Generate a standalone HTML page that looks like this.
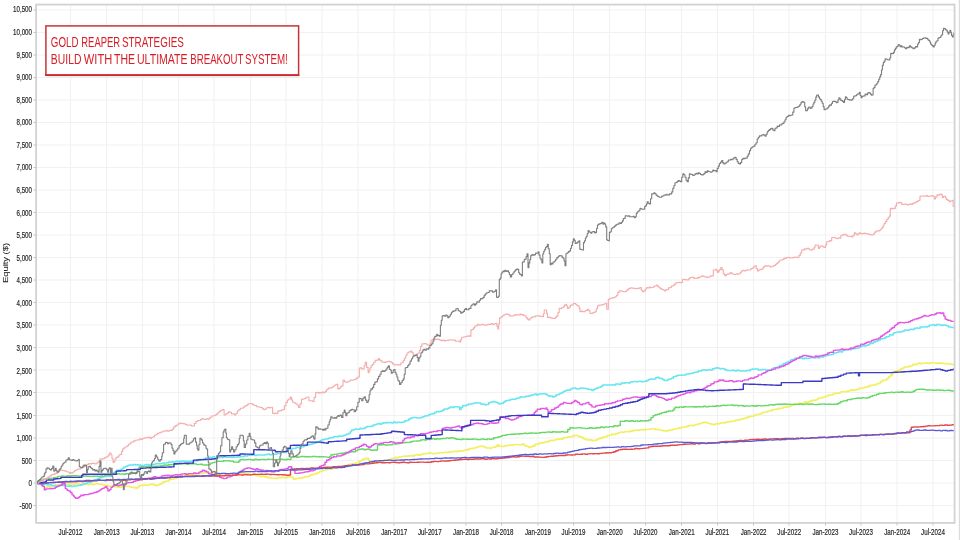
<!DOCTYPE html>
<html><head><meta charset="utf-8"><title>Equity chart</title>
<style>html,body{margin:0;padding:0;background:#fff;overflow:hidden;}svg{display:block;}</style></head>
<body><svg width="960" height="540" viewBox="0 0 960 540">
<rect width="960" height="540" fill="#fff"/>
<g stroke="#f1f1f1" stroke-width="1" fill="none"><line x1="36.1" y1="505.5" x2="954.6" y2="505.5"/><line x1="36.1" y1="483.0" x2="954.6" y2="483.0"/><line x1="36.1" y1="460.5" x2="954.6" y2="460.5"/><line x1="36.1" y1="438.0" x2="954.6" y2="438.0"/><line x1="36.1" y1="415.5" x2="954.6" y2="415.5"/><line x1="36.1" y1="392.5" x2="954.6" y2="392.5"/><line x1="36.1" y1="370.0" x2="954.6" y2="370.0"/><line x1="36.1" y1="347.5" x2="954.6" y2="347.5"/><line x1="36.1" y1="325.0" x2="954.6" y2="325.0"/><line x1="36.1" y1="302.5" x2="954.6" y2="302.5"/><line x1="36.1" y1="280.0" x2="954.6" y2="280.0"/><line x1="36.1" y1="257.5" x2="954.6" y2="257.5"/><line x1="36.1" y1="235.0" x2="954.6" y2="235.0"/><line x1="36.1" y1="212.5" x2="954.6" y2="212.5"/><line x1="36.1" y1="190.0" x2="954.6" y2="190.0"/><line x1="36.1" y1="167.5" x2="954.6" y2="167.5"/><line x1="36.1" y1="145.0" x2="954.6" y2="145.0"/><line x1="36.1" y1="122.5" x2="954.6" y2="122.5"/><line x1="36.1" y1="100.0" x2="954.6" y2="100.0"/><line x1="36.1" y1="77.5" x2="954.6" y2="77.5"/><line x1="36.1" y1="55.0" x2="954.6" y2="55.0"/><line x1="36.1" y1="32.5" x2="954.6" y2="32.5"/><line x1="36.1" y1="10.0" x2="954.6" y2="10.0"/><line x1="70.5" y1="4.6" x2="70.5" y2="522.9"/><line x1="106.5" y1="4.6" x2="106.5" y2="522.9"/><line x1="142.5" y1="4.6" x2="142.5" y2="522.9"/><line x1="178.5" y1="4.6" x2="178.5" y2="522.9"/><line x1="214.0" y1="4.6" x2="214.0" y2="522.9"/><line x1="250.5" y1="4.6" x2="250.5" y2="522.9"/><line x1="286.0" y1="4.6" x2="286.0" y2="522.9"/><line x1="322.0" y1="4.6" x2="322.0" y2="522.9"/><line x1="358.0" y1="4.6" x2="358.0" y2="522.9"/><line x1="394.0" y1="4.6" x2="394.0" y2="522.9"/><line x1="430.0" y1="4.6" x2="430.0" y2="522.9"/><line x1="466.0" y1="4.6" x2="466.0" y2="522.9"/><line x1="501.5" y1="4.6" x2="501.5" y2="522.9"/><line x1="538.0" y1="4.6" x2="538.0" y2="522.9"/><line x1="573.5" y1="4.6" x2="573.5" y2="522.9"/><line x1="609.5" y1="4.6" x2="609.5" y2="522.9"/><line x1="645.5" y1="4.6" x2="645.5" y2="522.9"/><line x1="681.5" y1="4.6" x2="681.5" y2="522.9"/><line x1="717.5" y1="4.6" x2="717.5" y2="522.9"/><line x1="753.5" y1="4.6" x2="753.5" y2="522.9"/><line x1="789.0" y1="4.6" x2="789.0" y2="522.9"/><line x1="825.5" y1="4.6" x2="825.5" y2="522.9"/><line x1="861.0" y1="4.6" x2="861.0" y2="522.9"/><line x1="897.0" y1="4.6" x2="897.0" y2="522.9"/><line x1="933.0" y1="4.6" x2="933.0" y2="522.9"/></g><polyline points="36.5,483.2 37.8,483.2 37.8,483.0 39.1,483.0 39.1,483.2 40.7,483.2 40.7,484.4 42.3,484.4 42.3,486.3 44.3,486.3 44.3,487.3 46.1,487.3 46.1,487.2 48.0,487.2 48.0,486.4 49.8,486.4 49.8,486.6 51.6,486.6 51.6,486.3 53.3,486.3 53.3,485.8 55.1,485.8 55.1,485.1 56.8,485.1 56.8,485.2 58.9,485.2 58.9,485.0 61.0,485.0 61.0,484.3 63.1,484.3 63.1,484.5 65.2,484.5 65.2,484.0 67.3,484.0 67.3,484.2 69.4,484.2 69.4,483.8 71.5,483.8 71.5,484.1 73.5,484.1 73.5,484.5 75.6,484.5 75.6,483.8 77.7,483.8 77.7,483.9 79.8,483.9 79.8,484.3 81.9,484.3 81.9,484.6 83.9,484.6 83.9,484.3 86.0,484.3 86.0,484.1 88.1,484.1 88.1,484.7 90.2,484.7 90.2,483.7 92.3,483.7 92.3,484.6 94.3,484.6 94.3,484.0 96.4,484.0 96.4,483.8 98.5,483.8 98.5,484.2 100.6,484.2 100.6,484.2 102.7,484.2 102.7,484.8 104.7,484.8 104.7,485.8 106.8,485.8 106.8,485.6 108.9,485.6 108.9,486.3 111.0,486.3 111.0,486.6 113.1,486.6 113.1,486.8 115.1,486.8 115.1,486.8 117.2,486.8 117.2,487.1 119.3,487.1 119.3,487.3 121.4,487.3 121.4,486.6 123.5,486.6 123.5,486.4 125.6,486.4 125.6,486.3 127.7,486.3 127.7,486.3 129.8,486.3 129.8,487.0 131.8,487.0 131.8,487.2 133.9,487.2 133.9,487.6 136.0,487.6 136.0,488.3 137.5,488.3 137.5,487.1 139.0,487.1 139.0,485.7 141.2,485.7 141.2,485.4 143.3,485.4 143.3,485.1 145.4,485.1 145.4,485.3 147.6,485.3 147.6,485.0 149.8,485.0 149.8,484.4 151.9,484.4 151.9,484.4 153.9,484.4 153.9,485.1 155.8,485.1 155.8,485.7 157.6,485.7 157.6,484.8 159.4,484.8 159.4,484.3 161.3,484.3 161.3,483.2 163.1,483.2 163.1,481.9 164.9,481.9 164.9,481.2 167.1,481.2 167.1,481.0 169.2,481.0 169.2,479.5 171.4,479.5 171.4,479.2 173.6,479.2 173.6,478.5 175.7,478.5 175.7,478.2 177.9,478.2 177.9,477.0 180.0,477.0 180.0,476.7 182.2,476.7 182.2,475.6 184.3,475.6 184.3,475.4 186.5,475.4 186.5,475.3 188.6,475.3 188.6,475.1 190.8,475.1 190.8,474.6 192.9,474.6 192.9,474.6 195.1,474.6 195.1,473.8 197.2,473.8 197.2,473.9 199.4,473.9 199.4,473.5 201.5,473.5 201.5,473.2 203.7,473.2 203.7,472.8 205.8,472.8 205.8,472.5 207.9,472.5 207.9,472.6 209.9,472.6 209.9,472.5 212.0,472.5 212.0,471.7 214.1,471.7 214.1,471.5 215.4,471.5 215.4,473.3 216.7,473.3 216.7,474.7 218.9,474.7 218.9,474.5 221.0,474.5 221.0,475.3 223.2,475.3 223.2,475.5 225.4,475.5 225.4,476.1 227.5,476.1 227.5,476.1 229.7,476.1 229.7,476.0 231.8,476.0 231.8,475.2 233.8,475.2 233.8,474.8 235.9,474.8 235.9,474.5 237.9,474.5 237.9,473.4 240.0,473.4 240.0,473.3 242.0,473.3 242.0,473.6 244.0,473.6 244.0,473.6 246.0,473.6 246.0,473.8 248.0,473.8 248.0,474.1 250.0,474.1 250.0,475.1 252.0,475.1 252.0,474.7 254.0,474.7 254.0,475.1 256.0,475.1 256.0,475.6 258.0,475.6 258.0,476.0 260.2,476.0 260.2,476.7 262.4,476.7 262.4,476.2 264.6,476.2 264.6,476.9 266.7,476.9 266.7,477.4 268.9,477.4 268.9,478.0 271.1,478.0 271.1,478.3 273.3,478.3 273.3,478.3 275.4,478.3 275.4,478.5 277.5,478.5 277.5,477.7 279.6,477.7 279.6,477.6 281.6,477.6 281.6,477.4 283.7,477.4 283.7,477.7 285.8,477.7 285.8,477.6 287.9,477.6 287.9,476.6 290.0,476.6 290.0,476.7 291.6,476.7 291.6,477.6 293.3,477.6 293.3,479.2 295.2,479.2 295.2,478.6 297.1,478.6 297.1,478.2 299.0,478.2 299.0,478.1 301.0,478.1 301.0,477.9 302.9,477.9 302.9,477.2 304.8,477.2 304.8,476.6 306.7,476.6 306.7,476.7 308.8,476.7 308.8,475.8 310.9,475.8 310.9,474.9 312.9,474.9 312.9,474.3 315.0,474.3 315.0,473.8 317.1,473.8 317.1,472.7 319.1,472.7 319.1,471.7 321.2,471.7 321.2,471.0 323.3,471.0 323.3,470.0 325.4,470.0 325.4,469.8 327.5,469.8 327.5,468.7 329.6,468.7 329.6,469.2 331.6,469.2 331.6,468.6 333.7,468.6 333.7,468.3 335.8,468.3 335.8,467.8 337.9,467.8 337.9,467.0 340.0,467.0 340.0,466.7 342.1,466.7 342.1,466.2 344.2,466.2 344.2,465.5 346.3,465.5 346.3,465.6 348.4,465.6 348.4,464.6 350.4,464.6 350.4,464.1 352.5,464.1 352.5,463.9 354.6,463.9 354.6,463.4 356.7,463.4 356.7,463.3 358.4,463.3 358.4,461.9 360.0,461.9 360.0,460.8 361.7,460.8 361.7,459.7 363.4,459.7 363.4,459.1 365.0,459.1 365.0,458.6 366.7,458.6 366.7,458.3 368.4,458.3 368.4,460.4 370.0,460.4 370.0,463.3 371.9,463.3 371.9,462.9 373.9,462.9 373.9,462.3 375.9,462.3 375.9,462.9 377.8,462.9 377.8,462.3 379.8,462.3 379.8,461.6 381.7,461.6 381.7,461.7 383.8,461.7 383.8,460.8 385.9,460.8 385.9,460.3 387.9,460.3 387.9,459.7 390.0,459.7 390.0,459.2 391.7,459.2 391.7,458.2 393.3,458.2 393.3,458.3 395.0,458.3 395.0,457.4 397.0,457.4 397.0,457.7 398.9,457.7 398.9,457.0 400.9,457.0 400.9,456.8 402.9,456.8 402.9,456.2 404.8,456.2 404.8,456.1 406.8,456.1 406.8,456.1 408.7,456.1 408.7,455.9 410.7,455.9 410.7,455.9 412.7,455.9 412.7,455.9 414.6,455.9 414.6,455.0 416.6,455.0 416.6,454.5 418.6,454.5 418.6,455.2 420.6,455.2 420.6,454.4 422.6,454.4 422.6,453.7 424.5,453.7 424.5,453.8 426.5,453.8 426.5,453.5 428.5,453.5 428.5,452.9 430.4,452.9 430.4,453.3 432.4,453.3 432.4,453.7 434.4,453.7 434.4,453.5 436.3,453.5 436.3,453.2 438.3,453.2 438.3,452.7 440.2,452.7 440.2,452.7 442.2,452.7 442.2,452.7 444.2,452.7 444.2,452.2 446.1,452.2 446.1,452.6 448.1,452.6 448.1,452.1 450.1,452.1 450.1,452.2 452.1,452.2 452.1,451.5 454.1,451.5 454.1,451.2 456.0,451.2 456.0,451.6 458.0,451.6 458.0,451.1 460.0,451.1 460.0,451.2 461.9,451.2 461.9,450.7 463.9,450.7 463.9,450.2 465.9,450.2 465.9,449.9 467.8,449.9 467.8,449.4 469.8,449.4 469.8,448.5 471.7,448.5 471.7,448.4 473.7,448.4 473.7,448.0 475.7,448.0 475.7,447.5 477.6,447.5 477.6,446.7 479.6,446.7 479.6,446.3 481.6,446.3 481.6,446.4 483.2,446.4 483.2,446.7 484.7,446.7 484.7,447.2 486.3,447.2 486.3,448.0 488.3,448.0 488.3,448.0 490.2,448.0 490.2,448.1 492.2,448.1 492.2,447.3 494.2,447.3 494.2,447.2 495.8,447.2 495.8,446.4 497.4,446.4 497.4,444.8 498.7,444.8 498.7,446.0 500.0,446.0 500.0,446.3 502.2,446.3 502.2,446.5 504.4,446.5 504.4,445.7 506.5,445.7 506.5,445.4 508.7,445.4 508.7,445.1 510.9,445.1 510.9,445.2 513.1,445.2 513.1,444.7 515.3,444.7 515.3,444.5 517.5,444.5 517.5,444.7 519.7,444.7 519.7,444.7 521.9,444.7 521.9,444.1 524.1,444.1 524.1,445.5 526.2,445.5 526.2,446.3 528.4,446.3 528.4,447.4 530.6,447.4 530.6,446.7 532.8,446.7 532.8,445.9 535.0,445.9 535.0,444.3 537.2,444.3 537.2,444.0 539.4,444.0 539.4,443.0 541.6,443.0 541.6,442.9 543.8,442.9 543.8,442.3 546.0,442.3 546.0,441.8 548.1,441.8 548.1,441.1 550.3,441.1 550.3,440.3 552.5,440.3 552.5,440.5 554.7,440.5 554.7,439.7 556.9,439.7 556.9,439.1 559.1,439.1 559.1,439.1 561.2,439.1 561.2,438.9 563.4,438.9 563.4,437.8 565.6,437.8 565.6,437.5 567.8,437.5 567.8,436.9 570.0,436.9 570.0,436.8 572.2,436.8 572.2,436.1 574.4,436.1 574.4,435.3 576.6,435.3 576.6,435.8 578.8,435.8 578.8,436.6 580.9,436.6 580.9,437.4 583.1,437.4 583.1,438.6 585.3,438.6 585.3,439.6 587.5,439.6 587.5,440.0 589.7,440.0 589.7,439.9 591.9,439.9 591.9,440.8 594.1,440.8 594.1,440.4 596.2,440.4 596.2,439.8 598.4,439.8 598.4,438.6 600.6,438.6 600.6,438.1 602.8,438.1 602.8,437.1 605.0,437.1 605.0,436.7 607.2,436.7 607.2,435.6 609.4,435.6 609.4,435.3 611.6,435.3 611.6,434.2 613.8,434.2 613.8,434.5 615.9,434.5 615.9,433.5 618.1,433.5 618.1,432.7 620.3,432.7 620.3,432.0 622.5,432.0 622.5,432.2 624.7,432.2 624.7,431.5 626.9,431.5 626.9,431.7 629.1,431.7 629.1,431.4 631.3,431.4 631.3,430.9 633.5,430.9 633.5,430.4 635.7,430.4 635.7,430.3 637.8,430.3 637.8,430.1 640.0,430.1 640.0,429.8 642.2,429.8 642.2,429.9 644.4,429.9 644.4,429.8 646.6,429.8 646.6,429.2 648.7,429.2 648.7,429.2 650.9,429.2 650.9,428.7 653.1,428.7 653.1,428.8 655.3,428.8 655.3,429.6 657.5,429.6 657.5,429.5 659.7,429.5 659.7,430.0 661.9,430.0 661.9,430.6 664.1,430.6 664.1,430.9 666.3,430.9 666.3,430.9 668.5,430.9 668.5,430.0 670.6,430.0 670.6,430.1 672.8,430.1 672.8,429.2 675.0,429.2 675.0,428.8 677.2,428.8 677.2,428.4 679.4,428.4 679.4,427.9 681.6,427.9 681.6,427.0 683.8,427.0 683.8,427.0 686.0,427.0 686.0,426.6 688.2,426.6 688.2,425.8 690.4,425.8 690.4,425.2 692.5,425.2 692.5,425.6 694.7,425.6 694.7,424.5 696.9,424.5 696.9,424.4 698.5,424.4 698.5,423.8 700.2,423.8 700.2,423.5 701.9,423.5 701.9,422.8 703.5,422.8 703.5,422.2 705.5,422.2 705.5,422.5 707.5,422.5 707.5,423.2 709.5,423.2 709.5,423.7 711.5,423.7 711.5,424.4 713.5,424.4 713.5,424.6 715.4,424.6 715.4,423.8 717.4,423.8 717.4,423.9 719.3,423.9 719.3,423.2 721.3,423.2 721.3,422.8 723.2,422.8 723.2,422.9 725.2,422.9 725.2,422.3 727.1,422.3 727.1,421.9 729.0,421.9 729.0,421.6 731.0,421.6 731.0,421.4 732.9,421.4 732.9,421.2 734.8,421.2 734.8,420.3 736.7,420.3 736.7,420.1 738.7,420.1 738.7,419.6 740.6,419.6 740.6,419.2 742.5,419.2 742.5,418.6 744.5,418.6 744.5,418.2 746.4,418.2 746.4,417.4 748.4,417.4 748.4,416.9 750.3,416.9 750.3,416.2 752.3,416.2 752.3,416.1 754.2,416.1 754.2,415.1 756.1,415.1 756.1,414.7 758.1,414.7 758.1,414.3 760.0,414.3 760.0,413.8 761.9,413.8 761.9,412.5 763.8,412.5 763.8,412.2 765.8,412.2 765.8,412.0 767.7,412.0 767.7,411.0 769.6,411.0 769.6,411.0 771.6,411.0 771.6,409.9 773.5,409.9 773.5,409.5 775.5,409.5 775.5,409.4 777.4,409.4 777.4,408.6 779.4,408.6 779.4,408.4 781.3,408.4 781.3,408.3 783.2,408.3 783.2,407.3 785.2,407.3 785.2,407.3 787.1,407.3 787.1,406.9 789.0,406.9 789.0,406.4 790.9,406.4 790.9,405.1 792.9,405.1 792.9,405.1 794.8,405.1 794.8,404.3 796.7,404.3 796.7,404.1 798.7,404.1 798.7,403.2 800.6,403.2 800.6,403.5 802.5,403.5 802.5,403.2 804.4,403.2 804.4,402.1 806.4,402.1 806.4,402.4 808.3,402.4 808.3,401.6 810.2,401.6 810.2,400.9 812.2,400.9 812.2,400.4 814.1,400.4 814.1,400.3 816.1,400.3 816.1,399.6 818.0,399.6 818.0,398.3 820.0,398.3 820.0,398.0 821.9,398.0 821.9,397.5 823.8,397.5 823.8,396.9 825.8,396.9 825.8,396.2 827.7,396.2 827.7,395.4 829.6,395.4 829.6,395.0 831.5,395.0 831.5,394.8 833.5,394.8 833.5,393.5 835.4,393.5 835.4,393.4 837.3,393.4 837.3,393.1 839.3,393.1 839.3,392.6 841.2,392.6 841.2,391.8 843.2,391.8 843.2,391.7 845.1,391.7 845.1,391.6 847.1,391.6 847.1,391.1 849.0,391.1 849.0,390.7 850.9,390.7 850.9,389.9 852.9,389.9 852.9,390.4 854.8,390.4 854.8,389.8 856.7,389.8 856.7,389.6 858.6,389.6 858.6,388.4 860.6,388.4 860.6,388.2 862.5,388.2 862.5,388.0 864.4,388.0 864.4,387.0 866.4,387.0 866.4,387.1 868.3,387.1 868.3,386.1 870.3,386.1 870.3,385.3 872.2,385.3 872.2,385.1 874.2,385.1 874.2,385.0 876.1,385.0 876.1,384.0 878.3,384.0 878.3,383.2 880.4,383.2 880.4,381.6 882.6,381.6 882.6,380.3 884.7,380.3 884.7,380.0 886.9,380.0 886.9,378.5 888.7,378.5 888.7,376.8 890.5,376.8 890.5,375.1 892.3,375.1 892.3,373.1 894.5,373.1 894.5,371.6 896.6,371.6 896.6,370.5 898.8,370.5 898.8,370.0 900.9,370.0 900.9,368.7 903.1,368.7 903.1,367.7 905.0,367.7 905.0,366.7 907.0,366.7 907.0,367.0 908.9,367.0 908.9,366.1 910.9,366.1 910.9,365.7 912.8,365.7 912.8,364.4 914.8,364.4 914.8,364.6 916.7,364.6 916.7,363.7 918.6,363.7 918.6,363.1 920.6,363.1 920.6,363.8 922.5,363.8 922.5,363.3 924.4,363.3 924.4,363.0 926.3,363.0 926.3,363.1 928.3,363.1 928.3,363.4 930.2,363.4 930.2,362.8 932.1,362.8 932.1,362.7 934.1,362.7 934.1,362.7 936.0,362.7 936.0,363.2 938.0,363.2 938.0,363.1 939.9,363.1 939.9,363.1 941.9,363.1 941.9,363.2 943.8,363.2 943.8,363.7 945.9,363.7 945.9,363.5 948.0,363.5 948.0,363.9 950.2,363.9 950.2,364.3 952.3,364.3 952.3,364.5 954.4,364.5 954.4,365.0" fill="none" stroke="#f2f060" stroke-width="1.6" stroke-linejoin="round"/>
<polyline points="36.5,483.2 38.2,483.2 38.2,483.9 40.0,483.9 40.0,484.0 41.6,484.0 41.6,483.9 43.2,483.9 43.2,484.4 44.8,484.4 44.8,484.1 46.4,484.1 46.4,484.7 48.1,484.7 48.1,484.8 49.8,484.8 49.8,484.8 51.4,484.8 51.4,485.4 53.1,485.4 53.1,485.4 54.8,485.4 54.8,486.3 56.7,486.3 56.7,486.4 58.5,486.4 58.5,485.9 60.4,485.9 60.4,485.3 62.2,485.3 62.2,485.4 64.1,485.4 64.1,485.2 65.7,485.2 65.7,486.3 67.3,486.3 67.3,486.3 69.2,486.3 69.2,485.8 71.2,485.8 71.2,486.5 73.1,486.5 73.1,486.0 75.0,486.0 75.0,486.0 76.9,486.0 76.9,485.6 78.9,485.6 78.9,485.5 80.8,485.5 80.8,484.7 82.6,484.7 82.6,483.9 84.4,483.9 84.4,483.4 86.3,483.4 86.3,483.0 88.1,483.0 88.1,482.1 89.6,482.1 89.6,482.2 91.2,482.2 91.2,480.9 92.8,480.9 92.8,480.9 94.3,480.9 94.3,480.0 95.9,480.0 95.9,479.6 97.4,479.6 97.4,478.9 99.0,478.9 99.0,477.9 100.6,477.9 100.6,477.4 102.3,477.4 102.3,477.0 103.9,477.0 103.9,476.5 105.6,476.5 105.6,476.4 107.2,476.4 107.2,476.1 108.9,476.1 108.9,476.4 110.5,476.4 110.5,475.5 112.1,475.5 112.1,473.8 113.6,473.8 113.6,472.5 115.2,472.5 115.2,471.7 116.9,471.7 116.9,470.3 118.7,470.3 118.7,470.4 120.4,470.4 120.4,469.5 122.1,469.5 122.1,468.4 123.9,468.4 123.9,467.1 125.6,467.1 125.6,466.5 127.0,466.5 127.0,465.7 128.4,465.7 128.4,465.2 129.8,465.2 129.8,464.9 131.6,464.9 131.6,464.9 133.5,464.9 133.5,464.5 135.3,464.5 135.3,464.9 137.2,464.9 137.2,464.7 139.0,464.7 139.0,465.0 140.8,465.0 140.8,465.5 142.7,465.5 142.7,465.5 144.5,465.5 144.5,464.9 146.4,464.9 146.4,464.5 148.2,464.5 148.2,465.3 150.1,465.3 150.1,464.5 151.9,464.5 151.9,464.7 153.8,464.7 153.8,464.3 155.6,464.3 155.6,463.6 157.5,463.6 157.5,463.8 159.3,463.8 159.3,463.7 161.2,463.7 161.2,463.5 163.0,463.5 163.0,462.9 164.9,462.9 164.9,463.0 166.7,463.0 166.7,462.8 168.6,462.8 168.6,462.0 170.4,462.0 170.4,462.2 172.3,462.2 172.3,461.8 174.1,461.8 174.1,462.0 176.0,462.0 176.0,461.3 177.8,461.3 177.8,461.7 179.7,461.7 179.7,461.0 181.5,461.0 181.5,461.3 183.4,461.3 183.4,461.1 185.2,461.1 185.2,461.5 187.1,461.5 187.1,461.3 188.9,461.3 188.9,461.5 190.8,461.5 190.8,461.1 192.6,461.1 192.6,461.0 194.5,461.0 194.5,460.8 196.3,460.8 196.3,460.7 198.2,460.7 198.2,459.9 200.0,459.9 200.0,459.5 201.9,459.5 201.9,460.1 203.7,460.1 203.7,459.2 205.4,459.2 205.4,458.1 207.2,458.1 207.2,458.1 208.9,458.1 208.9,457.2 210.8,457.2 210.8,457.4 212.7,457.4 212.7,456.7 214.6,456.7 214.6,457.6 216.5,457.6 216.5,457.7 218.4,457.7 218.4,457.4 220.2,457.4 220.2,457.5 222.1,457.5 222.1,457.6 224.0,457.6 224.0,456.8 225.9,456.8 225.9,457.2 227.8,457.2 227.8,457.2 229.7,457.2 229.7,457.2 231.5,457.2 231.5,457.5 233.3,457.5 233.3,457.3 235.1,457.3 235.1,457.2 236.9,457.2 236.9,456.7 238.8,456.7 238.8,456.9 240.6,456.9 240.6,456.6 242.4,456.6 242.4,456.4 244.2,456.4 244.2,455.7 246.0,455.7 246.0,455.9 247.8,455.9 247.8,455.2 249.6,455.2 249.6,455.2 251.3,455.2 251.3,455.3 253.1,455.3 253.1,454.8 254.9,454.8 254.9,455.6 256.7,455.6 256.7,455.0 258.5,455.0 258.5,455.0 260.4,455.0 260.4,455.0 262.2,455.0 262.2,454.9 264.1,454.9 264.1,454.9 265.9,454.9 265.9,454.5 267.8,454.5 267.8,453.9 269.6,453.9 269.6,454.7 271.5,454.7 271.5,454.6 273.3,454.6 273.3,454.2 275.3,454.2 275.3,453.9 277.3,453.9 277.3,453.6 279.3,453.6 279.3,453.4 281.3,453.4 281.3,452.3 283.3,452.3 283.3,452.5 285.0,452.5 285.0,452.0 286.6,452.0 286.6,450.6 288.3,450.6 288.3,449.5 290.0,449.5 290.0,449.2 292.0,449.2 292.0,448.4 294.0,448.4 294.0,448.5 296.0,448.5 296.0,447.3 298.0,447.3 298.0,447.5 300.0,447.5 300.0,446.7 302.0,446.7 302.0,446.8 304.0,446.8 304.0,445.7 306.0,445.7 306.0,445.1 308.0,445.1 308.0,444.7 310.0,444.7 310.0,444.2 312.0,444.2 312.0,443.7 314.0,443.7 314.0,443.2 316.0,443.2 316.0,442.3 318.0,442.3 318.0,441.7 320.0,441.7 320.0,440.8 321.7,440.8 321.7,439.8 323.3,439.8 323.3,439.4 325.0,439.4 325.0,439.0 326.6,439.0 326.6,439.1 328.3,439.1 328.3,438.3 330.0,438.3 330.0,437.7 331.7,437.7 331.7,437.7 333.3,437.7 333.3,436.8 335.0,436.8 335.0,436.5 336.7,436.5 336.7,436.7 338.4,436.7 338.4,436.1 340.0,436.1 340.0,436.2 341.7,436.2 341.7,435.9 343.3,435.9 343.3,435.6 345.0,435.6 345.0,435.0 346.4,435.0 346.4,434.2 347.8,434.2 347.8,433.9 349.2,433.9 349.2,433.3 350.4,433.3 350.4,431.6 351.7,431.6 351.7,430.0 353.4,430.0 353.4,429.7 355.0,429.7 355.0,429.0 356.7,429.0 356.7,429.2 358.4,429.2 358.4,429.3 360.0,429.3 360.0,428.2 361.7,428.2 361.7,428.8 363.3,428.8 363.3,428.4 365.0,428.4 365.0,427.5 366.7,427.5 366.7,426.4 368.3,426.4 368.3,426.5 370.0,426.5 370.0,426.4 371.6,426.4 371.6,426.1 373.3,426.1 373.3,425.0 375.0,425.0 375.0,424.6 376.7,424.6 376.7,424.0 378.3,424.0 378.3,423.6 380.0,423.6 380.0,424.2 381.7,424.2 381.7,423.3 383.4,423.3 383.4,422.8 385.0,422.8 385.0,423.1 386.7,423.1 386.7,422.4 388.3,422.4 388.3,422.7 390.0,422.7 390.0,422.5 391.8,422.5 391.8,423.0 393.7,423.0 393.7,421.9 395.5,421.9 395.5,422.7 397.4,422.7 397.4,422.2 399.2,422.2 399.2,422.6 401.1,422.6 401.1,422.3 402.9,422.3 402.9,422.0 404.8,422.0 404.8,420.7 406.8,420.7 406.8,420.5 408.8,420.5 408.8,419.1 410.7,419.1 410.7,418.1 412.7,418.1 412.7,417.5 414.6,417.5 414.6,417.5 416.6,417.5 416.6,418.1 418.6,418.1 418.6,418.1 420.6,418.1 420.6,417.4 422.6,417.4 422.6,416.7 424.5,416.7 424.5,415.9 426.5,415.9 426.5,415.7 428.5,415.7 428.5,414.7 430.4,414.7 430.4,413.9 432.4,413.9 432.4,413.8 434.4,413.8 434.4,412.6 436.3,412.6 436.3,411.4 438.3,411.4 438.3,411.7 440.2,411.7 440.2,411.2 442.2,411.2 442.2,410.2 444.2,410.2 444.2,408.9 446.1,408.9 446.1,409.1 448.1,409.1 448.1,408.1 450.1,408.1 450.1,407.0 452.1,407.0 452.1,407.5 454.1,407.5 454.1,406.7 456.0,406.7 456.0,406.8 458.0,406.8 458.0,407.0 459.6,407.0 459.6,409.4 461.1,409.4 461.1,407.3 462.7,407.3 462.7,405.5 464.7,405.5 464.7,405.7 466.6,405.7 466.6,404.8 468.6,404.8 468.6,404.1 470.6,404.1 470.6,403.9 472.2,403.9 472.2,403.6 473.8,403.6 473.8,403.2 475.3,403.2 475.3,402.8 476.9,402.8 476.9,403.1 478.9,403.1 478.9,403.0 480.9,403.0 480.9,404.3 482.8,404.3 482.8,404.0 484.8,404.0 484.8,404.7 486.8,404.7 486.8,404.4 488.7,404.4 488.7,402.8 490.7,402.8 490.7,402.0 492.6,402.0 492.6,401.5 494.2,401.5 494.2,402.1 495.8,402.1 495.8,402.3 497.3,402.3 497.3,403.1 498.9,403.1 498.9,403.9 500.0,403.9 500.0,403.6 501.7,403.6 501.7,403.2 503.5,403.2 503.5,402.1 505.2,402.1 505.2,400.7 507.1,400.7 507.1,400.6 509.0,400.6 509.0,399.9 510.9,399.9 510.9,399.2 512.7,399.2 512.7,399.3 514.6,399.3 514.6,399.0 516.4,399.0 516.4,398.2 518.2,398.2 518.2,398.0 520.1,398.0 520.1,396.8 521.9,396.8 521.9,397.0 523.7,397.0 523.7,396.9 525.5,396.9 525.5,396.2 527.3,396.2 527.3,396.2 529.2,396.2 529.2,395.7 531.0,395.7 531.0,394.9 532.8,394.9 532.8,394.8 534.6,394.8 534.6,394.1 536.5,394.1 536.5,395.0 538.3,395.0 538.3,393.9 540.1,393.9 540.1,394.1 542.0,394.1 542.0,393.8 543.8,393.8 543.8,393.8 545.5,393.8 545.5,394.2 547.3,394.2 547.3,395.4 549.0,395.4 549.0,396.3 550.8,396.3 550.8,396.1 552.5,396.1 552.5,397.0 554.3,397.0 554.3,396.3 556.0,396.3 556.0,395.0 557.8,395.0 557.8,394.5 559.5,394.5 559.5,393.4 561.3,393.4 561.3,392.7 563.1,392.7 563.1,391.6 564.9,391.6 564.9,390.8 566.8,390.8 566.8,390.1 568.6,390.1 568.6,390.3 570.4,390.3 570.4,389.0 572.2,389.0 572.2,388.3 574.0,388.3 574.0,388.0 575.8,388.0 575.8,388.8 577.7,388.8 577.7,388.9 579.5,388.9 579.5,388.2 581.3,388.2 581.3,387.9 583.1,387.9 583.1,388.3 584.9,388.3 584.9,388.4 586.6,388.4 586.6,388.7 588.4,388.7 588.4,389.4 590.1,389.4 590.1,389.6 591.9,389.6 591.9,390.5 593.7,390.5 593.7,389.3 595.5,389.3 595.5,388.4 597.3,388.4 597.3,387.8 599.2,387.8 599.2,387.3 601.0,387.3 601.0,386.2 602.8,386.2 602.8,385.0 604.6,385.0 604.6,384.9 606.5,384.9 606.5,384.9 608.3,384.9 608.3,385.0 610.1,385.0 610.1,384.9 612.0,384.9 612.0,384.8 613.8,384.8 613.8,385.0 615.6,385.0 615.6,384.1 617.4,384.1 617.4,384.0 619.2,384.0 619.2,384.5 621.1,384.5 621.1,383.1 622.9,383.1 622.9,383.2 624.7,383.2 624.7,382.8 626.5,382.8 626.5,382.8 628.3,382.8 628.3,382.9 630.2,382.9 630.2,381.9 632.0,381.9 632.0,381.8 633.8,381.8 633.8,381.6 635.6,381.6 635.6,381.7 637.4,381.7 637.4,381.4 639.3,381.4 639.3,381.3 641.1,381.3 641.1,381.7 642.9,381.7 642.9,381.4 644.8,381.4 644.8,381.2 646.6,381.2 646.6,380.6 648.4,380.6 648.4,379.5 650.2,379.5 650.2,378.9 652.0,378.9 652.0,379.2 653.9,379.2 653.9,378.9 655.7,378.9 655.7,377.8 657.5,377.8 657.5,377.3 659.1,377.3 659.1,378.2 660.8,378.2 660.8,378.4 662.5,378.4 662.5,379.6 664.1,379.6 664.1,380.6 665.9,380.6 665.9,380.4 667.7,380.4 667.7,379.6 669.5,379.6 669.5,378.9 671.4,378.9 671.4,378.3 673.2,378.3 673.2,376.7 675.0,376.7 675.0,376.3 676.8,376.3 676.8,375.5 678.7,375.5 678.7,375.2 680.5,375.2 680.5,375.2 682.3,375.2 682.3,375.1 684.2,375.1 684.2,375.0 686.0,375.0 686.0,374.1 687.8,374.1 687.8,374.0 689.6,374.0 689.6,373.5 691.5,373.5 691.5,373.3 693.3,373.3 693.3,372.6 695.1,372.6 695.1,372.3 696.9,372.3 696.9,371.9 698.5,371.9 698.5,370.8 700.2,370.8 700.2,371.1 701.9,371.1 701.9,369.9 703.5,369.9 703.5,369.7 705.3,369.7 705.3,370.3 707.1,370.3 707.1,370.0 709.0,370.0 709.0,369.7 710.8,369.7 710.8,370.0 712.6,370.0 712.6,368.8 714.5,368.8 714.5,368.2 716.3,368.2 716.3,367.7 718.1,367.7 718.1,368.3 719.9,368.3 719.9,368.8 721.7,368.8 721.7,368.6 723.5,368.6 723.5,369.0 725.3,369.0 725.3,370.0 727.1,370.0 727.1,370.4 729.0,370.4 729.0,370.6 731.0,370.6 731.0,370.4 732.9,370.4 732.9,370.3 734.8,370.3 734.8,370.9 736.7,370.9 736.7,370.2 738.7,370.2 738.7,370.7 740.6,370.7 740.6,371.0 742.5,371.0 742.5,370.7 744.5,370.7 744.5,371.0 746.4,371.0 746.4,370.4 748.4,370.4 748.4,370.4 750.3,370.4 750.3,369.6 752.3,369.6 752.3,369.1 754.2,369.1 754.2,369.1 756.1,369.1 756.1,369.0 758.1,369.0 758.1,370.0 760.0,370.0 760.0,369.9 761.9,369.9 761.9,369.6 763.8,369.6 763.8,369.5 765.8,369.5 765.8,370.2 767.7,370.2 767.7,370.4 769.6,370.4 769.6,369.8 771.6,369.8 771.6,368.8 773.5,368.8 773.5,367.8 775.5,367.8 775.5,367.5 777.4,367.5 777.4,367.1 779.4,367.1 779.4,365.4 781.3,365.4 781.3,365.0 783.2,365.0 783.2,363.5 785.2,363.5 785.2,362.9 787.1,362.9 787.1,362.0 789.0,362.0 789.0,361.3 790.9,361.3 790.9,359.8 792.9,359.8 792.9,359.5 794.8,359.5 794.8,358.2 796.7,358.2 796.7,358.5 798.7,358.5 798.7,358.2 800.6,358.2 800.6,357.8 802.5,357.8 802.5,358.8 804.4,358.8 804.4,358.0 806.4,358.0 806.4,358.6 808.3,358.6 808.3,358.2 810.2,358.2 810.2,357.7 812.2,357.7 812.2,357.5 814.1,357.5 814.1,358.0 816.1,358.0 816.1,357.2 818.0,357.2 818.0,357.8 820.0,357.8 820.0,357.1 821.9,357.1 821.9,356.9 823.8,356.9 823.8,355.9 825.8,355.9 825.8,355.4 827.7,355.4 827.7,355.0 829.6,355.0 829.6,354.8 831.5,354.8 831.5,354.5 833.5,354.5 833.5,353.0 835.4,353.0 835.4,352.8 837.2,352.8 837.2,352.2 839.0,352.2 839.0,351.6 840.8,351.6 840.8,352.0 842.6,352.0 842.6,350.6 844.5,350.6 844.5,350.0 846.3,350.0 846.3,349.6 848.1,349.6 848.1,349.6 849.9,349.6 849.9,349.7 851.7,349.7 851.7,348.8 853.5,348.8 853.5,348.8 855.3,348.8 855.3,348.2 857.1,348.2 857.1,348.0 858.9,348.0 858.9,347.5 860.7,347.5 860.7,346.3 862.5,346.3 862.5,345.7 864.3,345.7 864.3,346.1 866.1,346.1 866.1,345.5 867.9,345.5 867.9,344.7 869.7,344.7 869.7,343.4 871.5,343.4 871.5,343.4 873.3,343.4 873.3,342.3 875.1,342.3 875.1,341.5 877.0,341.5 877.0,340.7 878.8,340.7 878.8,339.8 880.6,339.8 880.6,338.8 882.4,338.8 882.4,338.4 884.2,338.4 884.2,337.9 886.0,337.9 886.0,336.8 887.8,336.8 887.8,336.6 889.6,336.6 889.6,334.7 891.4,334.7 891.4,334.9 893.2,334.9 893.2,333.0 895.0,333.0 895.0,332.5 896.9,332.5 896.9,331.9 898.9,331.9 898.9,332.1 900.8,332.1 900.8,331.7 902.8,331.7 902.8,330.9 904.7,330.9 904.7,330.0 906.7,330.0 906.7,330.2 908.6,330.2 908.6,329.8 910.5,329.8 910.5,329.3 912.5,329.3 912.5,329.5 914.4,329.5 914.4,328.3 916.3,328.3 916.3,328.1 918.2,328.1 918.2,328.3 920.2,328.3 920.2,326.9 922.1,326.9 922.1,327.1 923.9,327.1 923.9,326.7 925.7,326.7 925.7,326.9 927.5,326.9 927.5,326.5 929.3,326.5 929.3,325.3 931.1,325.3 931.1,325.0 932.9,325.0 932.9,324.8 934.7,324.8 934.7,325.5 936.5,325.5 936.5,324.4 938.3,324.4 938.3,324.4 939.9,324.4 939.9,325.0 941.6,325.0 941.6,325.4 943.2,325.4 943.2,325.0 944.9,325.0 944.9,325.2 946.5,325.2 946.5,325.7 948.5,325.7 948.5,326.9 950.5,326.9 950.5,327.2 952.4,327.2 952.4,327.4 954.4,327.4 954.4,328.4" fill="none" stroke="#66e6f0" stroke-width="1.5" stroke-linejoin="round"/>
<polyline points="36.5,482.6 38.4,482.6 38.4,481.7 40.2,481.7 40.2,480.5 41.9,480.5 41.9,479.9 43.6,479.9 43.6,479.3 45.3,479.3 45.3,478.6 47.0,478.6 47.0,478.5 49.2,478.5 49.2,478.4 51.3,478.4 51.3,478.1 53.5,478.1 53.5,477.6 55.7,477.6 55.7,477.5 57.8,477.5 57.8,476.4 60.0,476.4 60.0,476.4 61.8,476.4 61.8,476.0 63.6,476.0 63.6,476.1 65.5,476.1 65.5,476.3 67.3,476.3 67.3,475.8 69.3,475.8 69.3,476.2 71.2,476.2 71.2,475.8 73.2,475.8 73.2,475.7 75.2,475.7 75.2,475.8 77.1,475.8 77.1,475.9 79.1,475.9 79.1,476.3 81.1,476.3 81.1,475.7 83.0,475.7 83.0,476.2 85.0,476.2 85.0,476.0 86.9,476.0 86.9,476.2 88.9,476.2 88.9,476.4 90.8,476.4 90.8,476.4 92.7,476.4 92.7,476.3 94.6,476.3 94.6,476.1 96.6,476.1 96.6,476.2 98.5,476.2 98.5,476.4 100.6,476.4 100.6,476.0 102.7,476.0 102.7,476.1 104.8,476.1 104.8,475.3 106.8,475.3 106.8,475.1 108.9,475.1 108.9,475.3 111.0,475.3 111.0,474.6 113.1,474.6 113.1,474.2 115.2,474.2 115.2,474.3 117.3,474.3 117.3,473.8 119.4,473.8 119.4,474.1 121.4,474.1 121.4,473.9 123.5,473.9 123.5,474.3 125.6,474.3 125.6,473.8 127.7,473.8 127.7,473.9 129.8,473.9 129.8,473.8 131.8,473.8 131.8,473.0 133.9,473.0 133.9,472.6 136.0,472.6 136.0,472.7 137.5,472.7 137.5,469.5 139.0,469.5 139.0,466.9 141.2,466.9 141.2,466.8 143.3,466.8 143.3,466.9 145.4,466.9 145.4,466.7 147.6,466.7 147.6,466.4 149.8,466.4 149.8,466.5 151.9,466.5 151.9,466.5 153.9,466.5 153.9,466.4 155.9,466.4 155.9,466.2 157.9,466.2 157.9,466.1 159.9,466.1 159.9,466.0 161.9,466.0 161.9,465.6 164.0,465.6 164.0,465.0 166.0,465.0 166.0,465.4 168.0,465.4 168.0,464.7 170.0,464.7 170.0,464.8 172.0,464.8 172.0,464.4 174.0,464.4 174.0,464.3 176.1,464.3 176.1,464.4 178.2,464.4 178.2,463.9 180.3,463.9 180.3,463.9 182.4,463.9 182.4,463.8 184.5,463.8 184.5,463.6 186.6,463.6 186.6,464.2 188.7,464.2 188.7,463.8 190.8,463.8 190.8,463.7 192.7,463.7 192.7,463.7 194.7,463.7 194.7,463.9 196.6,463.9 196.6,464.6 198.6,464.6 198.6,464.4 200.5,464.4 200.5,464.3 202.4,464.3 202.4,464.9 204.4,464.9 204.4,465.0 206.3,465.0 206.3,465.0 208.4,465.0 208.4,464.6 210.5,464.6 210.5,463.1 212.5,463.1 212.5,462.6 214.6,462.6 214.6,462.1 216.7,462.1 216.7,461.1 218.9,461.1 218.9,461.4 221.0,461.4 221.0,461.4 223.2,461.4 223.2,460.7 225.4,460.7 225.4,460.9 227.5,460.9 227.5,460.8 229.7,460.8 229.7,461.1 231.6,461.1 231.6,461.2 233.6,461.2 233.6,462.1 235.5,462.1 235.5,462.1 237.4,462.1 237.4,462.4 238.7,462.4 238.7,461.3 240.0,461.3 240.0,459.6 242.1,459.6 242.1,459.5 244.2,459.5 244.2,459.9 246.2,459.9 246.2,459.6 248.3,459.6 248.3,459.4 250.4,459.4 250.4,459.8 252.5,459.8 252.5,460.0 254.6,460.0 254.6,459.3 256.7,459.3 256.7,459.7 258.8,459.7 258.8,459.7 260.8,459.7 260.8,459.4 262.9,459.4 262.9,459.5 265.0,459.5 265.0,459.6 267.2,459.6 267.2,459.3 269.4,459.3 269.4,459.4 271.5,459.4 271.5,459.4 273.7,459.4 273.7,459.7 275.9,459.7 275.9,459.7 278.1,459.7 278.1,459.4 280.3,459.4 280.3,459.2 282.5,459.2 282.5,459.5 284.6,459.5 284.6,459.7 286.8,459.7 286.8,459.3 289.0,459.3 289.0,459.6 291.0,459.6 291.0,457.0 293.0,457.0 293.0,456.8 294.9,456.8 294.9,456.7 296.9,456.7 296.9,457.2 298.9,457.2 298.9,456.9 300.8,456.9 300.8,456.5 302.8,456.5 302.8,456.5 304.7,456.5 304.7,456.7 306.7,456.7 306.7,456.8 308.6,456.8 308.6,456.8 310.5,456.8 310.5,456.9 312.4,456.9 312.4,456.4 314.2,456.4 314.2,456.5 316.1,456.5 316.1,456.9 318.0,456.9 318.0,456.7 320.0,456.7 320.0,456.7 322.1,456.7 322.1,456.8 324.1,456.8 324.1,456.9 326.2,456.9 326.2,457.1 328.3,457.1 328.3,457.5 329.6,457.5 329.6,456.6 330.8,456.6 330.8,455.0 332.8,455.0 332.8,454.5 334.8,454.5 334.8,454.4 336.8,454.4 336.8,453.9 338.8,453.9 338.8,453.6 340.8,453.6 340.8,453.3 342.9,453.3 342.9,453.2 345.0,453.2 345.0,452.5 347.1,452.5 347.1,452.7 349.1,452.7 349.1,452.0 351.2,452.0 351.2,451.7 353.3,451.7 353.3,451.7 355.4,451.7 355.4,450.8 357.5,450.8 357.5,449.6 359.7,449.6 359.7,449.3 361.8,449.3 361.8,449.0 364.0,449.0 364.0,449.7 366.1,449.7 366.1,449.2 368.3,449.2 368.3,449.2 370.0,449.2 370.0,450.0 371.7,450.0 371.7,450.3 373.4,450.3 373.4,449.9 375.0,449.9 375.0,450.3 376.7,450.3 376.7,450.0 377.5,450.0 377.5,445.0 379.3,445.0 379.3,445.0 381.2,445.0 381.2,444.7 383.0,444.7 383.0,444.6 384.9,444.6 384.9,445.0 386.7,445.0 386.7,445.0 388.6,445.0 388.6,444.9 390.5,444.9 390.5,444.8 392.4,444.8 392.4,443.9 394.3,443.9 394.3,444.1 396.2,444.1 396.2,443.7 398.1,443.7 398.1,443.5 400.0,443.5 400.0,443.3 402.1,443.3 402.1,442.7 404.3,442.7 404.3,442.5 406.4,442.5 406.4,442.4 408.6,442.4 408.6,442.4 410.7,442.4 410.7,441.7 412.7,441.7 412.7,441.1 414.6,441.1 414.6,441.1 416.6,441.1 416.6,441.0 418.6,441.0 418.6,440.9 420.6,440.9 420.6,440.0 422.6,440.0 422.6,439.6 424.5,439.6 424.5,440.0 426.5,440.0 426.5,439.3 428.5,439.3 428.5,439.6 430.4,439.6 430.4,439.1 432.4,439.1 432.4,438.6 434.4,438.6 434.4,439.2 436.3,439.2 436.3,438.7 438.3,438.7 438.3,439.0 440.2,439.0 440.2,438.7 442.2,438.7 442.2,438.5 444.2,438.5 444.2,438.6 446.1,438.6 446.1,437.9 448.1,437.9 448.1,438.2 450.1,438.2 450.1,437.8 452.1,437.8 452.1,438.0 454.1,438.0 454.1,438.5 456.0,438.5 456.0,439.2 458.0,439.2 458.0,439.3 460.1,439.3 460.1,439.6 462.2,439.6 462.2,439.0 464.3,439.0 464.3,439.1 466.4,439.1 466.4,439.2 468.5,439.2 468.5,439.3 470.6,439.3 470.6,439.2 472.7,439.2 472.7,439.0 474.8,439.0 474.8,439.1 476.9,439.1 476.9,439.5 479.0,439.5 479.0,439.6 481.1,439.6 481.1,438.9 483.2,438.9 483.2,439.3 485.3,439.3 485.3,439.5 487.4,439.5 487.4,438.9 489.5,438.9 489.5,439.3 491.6,439.3 491.6,439.0 493.7,439.0 493.7,437.8 495.8,437.8 495.8,437.6 497.9,437.6 497.9,437.0 500.0,437.0 500.0,436.4 502.1,436.4 502.1,435.4 504.3,435.4 504.3,435.2 506.5,435.2 506.5,434.6 508.7,434.6 508.7,434.4 510.9,434.4 510.9,434.2 513.1,434.2 513.1,434.2 515.3,434.2 515.3,433.9 517.5,433.9 517.5,434.0 519.7,434.0 519.7,433.7 521.8,433.7 521.8,433.6 524.0,433.6 524.0,433.2 526.2,433.2 526.2,433.5 528.4,433.5 528.4,433.3 530.6,433.3 530.6,433.0 532.8,433.0 532.8,433.1 535.0,433.1 535.0,433.2 537.2,433.2 537.2,433.1 539.4,433.1 539.4,432.7 541.6,432.7 541.6,432.4 543.8,432.4 543.8,432.5 545.9,432.5 545.9,432.1 548.1,432.1 548.1,432.0 550.3,432.0 550.3,432.2 552.5,432.2 552.5,431.8 554.7,431.8 554.7,432.0 556.9,432.0 556.9,432.0 559.1,432.0 559.1,432.0 561.2,432.0 561.2,431.6 563.4,431.6 563.4,432.1 565.6,432.1 565.6,432.0 567.8,432.0 567.8,429.5 570.0,429.5 570.0,427.7 572.2,427.7 572.2,428.0 574.4,428.0 574.4,428.1 576.6,428.1 576.6,427.9 578.8,427.9 578.8,427.6 580.9,427.6 580.9,428.1 583.1,428.1 583.1,428.1 585.3,428.1 585.3,428.6 587.5,428.6 587.5,428.3 589.7,428.3 589.7,427.8 591.9,427.8 591.9,428.2 594.1,428.2 594.1,428.2 596.3,428.2 596.3,427.8 598.5,427.8 598.5,427.7 600.6,427.7 600.6,427.0 602.8,427.0 602.8,427.5 605.0,427.5 605.0,426.9 607.2,426.9 607.2,427.1 609.4,427.1 609.4,426.6 611.6,426.6 611.6,426.7 613.8,426.7 613.8,425.8 615.9,425.8 615.9,426.0 618.1,426.0 618.1,425.5 620.3,425.5 620.3,421.1 622.5,421.1 622.5,421.4 624.7,421.4 624.7,420.8 626.9,420.8 626.9,421.0 629.1,421.0 629.1,421.3 631.2,421.3 631.2,420.8 633.4,420.8 633.4,421.4 635.6,421.4 635.6,420.9 637.8,420.9 637.8,421.4 640.0,421.4 640.0,420.8 642.2,420.8 642.2,421.1 644.4,421.1 644.4,420.7 646.6,420.7 646.6,420.7 648.8,420.7 648.8,420.0 651.0,420.0 651.0,417.6 653.1,417.6 653.1,415.6 655.3,415.6 655.3,414.8 657.5,414.8 657.5,414.3 659.7,414.3 659.7,413.5 661.9,413.5 661.9,412.6 664.1,412.6 664.1,412.3 666.3,412.3 666.3,411.5 668.5,411.5 668.5,411.0 670.6,411.0 670.6,411.1 672.8,411.1 672.8,410.2 673.9,410.2 673.9,408.9 675.0,408.9 675.0,407.3 677.2,407.3 677.2,407.5 679.4,407.5 679.4,406.9 681.6,406.9 681.6,407.3 683.8,407.3 683.8,406.7 686.0,406.7 686.0,406.9 688.2,406.9 688.2,406.9 690.4,406.9 690.4,406.9 692.5,406.9 692.5,406.7 694.7,406.7 694.7,407.0 696.9,407.0 696.9,406.7 699.1,406.7 699.1,406.7 701.3,406.7 701.3,406.9 703.5,406.9 703.5,406.2 705.6,406.2 705.6,406.9 707.8,406.9 707.8,406.5 710.0,406.5 710.0,406.4 712.1,406.4 712.1,406.2 714.3,406.2 714.3,406.3 716.4,406.3 716.4,405.7 718.5,405.7 718.5,406.1 720.7,406.1 720.7,405.6 722.8,405.6 722.8,405.3 725.0,405.3 725.0,405.5 727.1,405.5 727.1,405.1 729.2,405.1 729.2,405.1 731.3,405.1 731.3,405.0 733.4,405.0 733.4,405.5 735.4,405.5 735.4,405.1 737.5,405.1 737.5,405.8 739.6,405.8 739.6,405.4 741.7,405.4 741.7,405.8 743.8,405.8 743.8,406.2 745.9,406.2 745.9,405.9 747.9,405.9 747.9,406.1 750.0,406.1 750.0,405.9 752.1,405.9 752.1,405.7 754.2,405.7 754.2,406.2 756.3,406.2 756.3,405.7 758.4,405.7 758.4,405.6 760.5,405.6 760.5,405.9 762.5,405.9 762.5,405.6 764.6,405.6 764.6,405.5 766.7,405.5 766.7,405.6 768.8,405.6 768.8,404.9 770.9,404.9 770.9,404.8 773.0,404.8 773.0,405.0 775.0,405.0 775.0,404.4 777.1,404.4 777.1,404.2 779.2,404.2 779.2,404.3 781.3,404.3 781.3,404.3 783.4,404.3 783.4,404.0 785.5,404.0 785.5,404.2 787.5,404.2 787.5,404.1 789.6,404.1 789.6,404.4 791.7,404.4 791.7,404.4 793.8,404.4 793.8,404.1 795.8,404.1 795.8,404.4 797.9,404.4 797.9,404.3 800.0,404.3 800.0,404.0 802.1,404.0 802.1,404.6 804.1,404.6 804.1,404.1 806.2,404.1 806.2,404.0 808.3,404.0 808.3,404.3 810.4,404.3 810.4,404.0 812.5,404.0 812.5,404.4 814.6,404.4 814.6,404.6 816.6,404.6 816.6,404.5 818.7,404.5 818.7,404.2 820.8,404.2 820.8,404.1 822.9,404.1 822.9,403.9 825.0,403.9 825.0,404.4 827.1,404.4 827.1,404.3 829.1,404.3 829.1,404.2 831.2,404.2 831.2,404.4 833.3,404.4 833.3,404.3 835.4,404.3 835.4,404.3 837.2,404.3 837.2,403.7 839.0,403.7 839.0,402.7 840.8,402.7 840.8,401.6 843.0,401.6 843.0,400.9 845.2,400.9 845.2,400.8 847.3,400.8 847.3,399.6 849.5,399.6 849.5,399.5 851.7,399.5 851.7,398.9 853.7,398.9 853.7,398.6 855.8,398.6 855.8,398.3 857.8,398.3 857.8,398.0 859.8,398.0 859.8,398.4 861.8,398.4 861.8,397.6 863.9,397.6 863.9,397.9 865.9,397.9 865.9,398.0 867.9,398.0 867.9,397.5 870.1,397.5 870.1,396.4 872.3,396.4 872.3,395.6 874.4,395.6 874.4,395.1 876.6,395.1 876.6,394.2 878.8,394.2 878.8,393.4 880.8,393.4 880.8,393.4 882.8,393.4 882.8,393.3 884.9,393.3 884.9,392.7 886.9,392.7 886.9,392.6 888.9,392.6 888.9,392.4 891.0,392.4 891.0,392.1 893.0,392.1 893.0,392.6 895.0,392.6 895.0,392.1 897.0,392.1 897.0,392.3 899.1,392.3 899.1,392.3 901.1,392.3 901.1,391.7 903.1,391.7 903.1,392.4 905.2,392.4 905.2,392.3 907.2,392.3 907.2,392.1 909.3,392.1 909.3,392.3 911.3,392.3 911.3,392.1 913.1,392.1 913.1,391.2 914.9,391.2 914.9,390.1 916.7,390.1 916.7,389.4 918.6,389.4 918.6,389.2 920.6,389.2 920.6,389.3 922.5,389.3 922.5,389.2 924.4,389.2 924.4,389.6 926.3,389.6 926.3,390.0 928.3,390.0 928.3,390.0 930.2,390.0 930.2,389.9 932.4,389.9 932.4,390.2 934.6,390.2 934.6,390.2 936.8,390.2 936.8,389.9 939.0,389.9 939.0,390.2 941.2,390.2 941.2,390.2 943.4,390.2 943.4,390.6 945.6,390.6 945.6,390.4 947.8,390.4 947.8,390.3 950.0,390.3 950.0,390.7 952.2,390.7 952.2,391.0 954.4,391.0 954.4,390.7" fill="none" stroke="#66d866" stroke-width="1.4" stroke-linejoin="round"/>
<polyline points="36.5,483.2 38.1,483.2 38.1,483.6 39.7,483.6 39.7,483.8 41.2,483.8 41.2,484.7 42.2,484.7 42.2,486.0 43.3,486.0 43.3,486.3 44.3,486.3 44.3,489.9 45.7,489.9 45.7,489.0 47.1,489.0 47.1,488.9 48.5,488.9 48.5,488.9 49.9,488.9 49.9,488.4 51.3,488.4 51.3,488.8 52.7,488.8 52.7,488.3 54.1,488.3 54.1,488.2 55.4,488.2 55.4,487.3 56.8,487.3 56.8,486.3 58.4,486.3 58.4,485.5 60.0,485.5 60.0,485.2 62.0,485.2 62.0,483.6 63.0,483.6 63.0,484.1 64.1,484.1 64.1,483.6 65.2,483.6 65.2,488.3 66.2,488.3 66.2,489.1 67.3,489.1 67.3,490.4 68.8,490.4 68.8,491.1 70.4,491.1 70.4,492.5 72.0,492.5 72.0,494.8 73.5,494.8 73.5,496.1 74.5,496.1 74.5,497.3 75.6,497.3 75.6,498.2 76.7,498.2 76.7,498.2 77.7,498.2 77.7,497.7 79.2,497.7 79.2,496.6 80.8,496.6 80.8,495.1 82.2,495.1 82.2,495.5 83.6,495.5 83.6,494.7 85.0,494.7 85.0,494.6 86.7,494.6 86.7,494.6 88.5,494.6 88.5,494.1 90.2,494.1 90.2,493.5 91.6,493.5 91.6,493.6 92.9,493.6 92.9,492.8 94.3,492.8 94.3,492.5 95.7,492.5 95.7,492.2 97.1,492.2 97.1,491.5 98.5,491.5 98.5,490.9 99.9,490.9 99.9,489.8 101.3,489.8 101.3,488.8 102.7,488.8 102.7,488.3 104.2,488.3 104.2,487.4 105.8,487.4 105.8,486.3 106.8,486.3 106.8,488.1 107.9,488.1 107.9,490.9 109.5,490.9 109.5,489.6 111.0,489.6 111.0,487.3 112.4,487.3 112.4,486.2 113.8,486.2 113.8,485.3 115.2,485.3 115.2,485.2 116.6,485.2 116.6,484.7 117.9,484.7 117.9,485.7 119.3,485.7 119.3,485.2 121.0,485.2 121.0,484.7 122.8,484.7 122.8,484.1 124.5,484.1 124.5,484.2 126.3,484.2 126.3,483.1 128.0,483.1 128.0,482.6 129.8,482.6 129.8,482.6 131.6,482.6 131.6,482.2 133.5,482.2 133.5,481.4 135.3,481.4 135.3,480.8 137.2,480.8 137.2,480.2 139.0,480.2 139.0,479.2 140.9,479.2 140.9,478.4 142.7,478.4 142.7,478.8 144.6,478.8 144.6,478.3 146.4,478.3 146.4,478.6 148.3,478.6 148.3,478.4 150.1,478.4 150.1,478.2 152.0,478.2 152.0,477.5 153.9,477.5 153.9,476.7 155.9,476.7 155.9,477.5 157.8,477.5 157.8,477.3 159.7,477.3 159.7,477.1 161.7,477.1 161.7,475.9 163.6,475.9 163.6,475.7 165.5,475.7 165.5,475.4 167.5,475.4 167.5,475.1 169.4,475.1 169.4,475.8 171.3,475.8 171.3,475.5 173.3,475.5 173.3,475.1 175.2,475.1 175.2,474.7 177.0,474.7 177.0,475.0 178.9,475.0 178.9,474.6 180.7,474.6 180.7,474.1 182.6,474.1 182.6,473.8 184.4,473.8 184.4,473.7 186.2,473.7 186.2,474.4 188.1,474.4 188.1,473.6 189.9,473.6 189.9,473.6 191.8,473.6 191.8,473.6 193.6,473.6 193.6,473.0 195.5,473.0 195.5,473.2 197.3,473.2 197.3,473.4 199.0,473.4 199.0,472.1 200.8,472.1 200.8,471.5 202.5,471.5 202.5,470.2 204.4,470.2 204.4,471.0 206.3,471.0 206.3,471.9 208.3,471.9 208.3,473.7 210.2,473.7 210.2,474.1 212.1,474.1 212.1,474.7 213.9,474.7 213.9,475.8 215.8,475.8 215.8,476.2 217.6,476.2 217.6,476.1 219.5,476.1 219.5,477.2 221.3,477.2 221.3,477.9 223.2,477.9 223.2,478.6 225.0,478.6 225.0,478.3 226.9,478.3 226.9,477.1 228.7,477.1 228.7,476.9 230.6,476.9 230.6,476.1 232.4,476.1 232.4,475.0 234.3,475.0 234.3,475.2 236.1,475.2 236.1,474.1 238.1,474.1 238.1,472.4 240.1,472.4 240.1,472.1 242.0,472.1 242.0,470.2 244.0,470.2 244.0,468.8 246.0,468.8 246.0,468.2 248.0,468.2 248.0,467.9 250.0,467.9 250.0,468.3 252.0,468.3 252.0,469.0 254.0,469.0 254.0,469.6 256.0,469.6 256.0,468.7 258.0,468.7 258.0,469.6 260.0,469.6 260.0,470.0 261.9,470.0 261.9,470.2 263.8,470.2 263.8,470.8 265.7,470.8 265.7,470.3 267.6,470.3 267.6,471.0 269.5,471.0 269.5,471.0 271.4,471.0 271.4,471.9 273.3,471.9 273.3,471.7 275.2,471.7 275.2,470.9 277.1,470.9 277.1,471.3 279.0,471.3 279.0,470.0 281.0,470.0 281.0,469.4 282.9,469.4 282.9,469.5 284.8,469.5 284.8,468.8 286.7,468.8 286.7,468.3 288.4,468.3 288.4,467.0 290.0,467.0 290.0,466.7 291.7,466.7 291.7,469.1 293.3,469.1 293.3,470.6 295.0,470.6 295.0,473.3 296.9,473.3 296.9,473.4 298.9,473.4 298.9,473.0 300.9,473.0 300.9,472.8 302.8,472.8 302.8,472.4 304.8,472.4 304.8,471.8 306.7,471.8 306.7,471.7 308.4,471.7 308.4,471.2 310.0,471.2 310.0,470.7 311.6,470.7 311.6,470.9 313.3,470.9 313.3,470.0 315.3,470.0 315.3,468.5 317.3,468.5 317.3,468.5 319.3,468.5 319.3,466.4 321.3,466.4 321.3,465.6 323.3,465.6 323.3,465.0 325.0,465.0 325.0,462.2 326.7,462.2 326.7,460.0 328.4,460.0 328.4,459.7 330.0,459.7 330.0,458.4 331.6,458.4 331.6,457.4 333.3,457.4 333.3,456.7 335.0,456.7 335.0,456.9 336.6,456.9 336.6,455.9 338.3,455.9 338.3,456.0 340.0,456.0 340.0,455.8 341.7,455.8 341.7,455.0 343.4,455.0 343.4,454.5 345.0,454.5 345.0,453.6 346.7,453.6 346.7,452.5 348.4,452.5 348.4,451.9 350.0,451.9 350.0,450.7 351.6,450.7 351.6,449.8 353.3,449.8 353.3,449.2 355.3,449.2 355.3,447.8 357.3,447.8 357.3,447.6 359.3,447.6 359.3,446.4 361.3,446.4 361.3,445.5 363.3,445.5 363.3,444.2 365.0,444.2 365.0,444.9 366.6,444.9 366.6,446.3 368.3,446.3 368.3,447.5 370.0,447.5 370.0,446.7 371.6,446.7 371.6,445.4 373.3,445.4 373.3,444.2 375.0,444.2 375.0,443.6 376.7,443.6 376.7,443.8 378.3,443.8 378.3,444.1 380.0,444.1 380.0,443.2 381.7,443.2 381.7,443.3 383.4,443.3 383.4,442.6 385.0,442.6 385.0,442.4 386.7,442.4 386.7,442.6 388.3,442.6 388.3,442.4 390.0,442.4 390.0,441.7 391.7,441.7 391.7,441.8 393.3,441.8 393.3,442.4 395.0,442.4 395.0,443.3 396.6,443.3 396.6,442.8 398.1,442.8 398.1,442.7 399.7,442.7 399.7,442.7 401.3,442.7 401.3,442.5 402.9,442.5 402.9,440.1 404.4,440.1 404.4,438.5 406.0,438.5 406.0,437.9 407.5,437.9 407.5,437.4 409.1,437.4 409.1,437.9 410.7,437.9 410.7,437.0 412.7,437.0 412.7,436.7 414.6,436.7 414.6,435.3 416.6,435.3 416.6,435.8 418.6,435.8 418.6,434.6 420.4,434.6 420.4,433.7 422.3,433.7 422.3,433.7 424.1,433.7 424.1,434.0 425.9,434.0 425.9,433.4 427.8,433.4 427.8,432.9 429.6,432.9 429.6,432.2 431.5,432.2 431.5,431.9 433.3,431.9 433.3,431.3 435.1,431.3 435.1,431.6 437.0,431.6 437.0,430.7 438.9,430.7 438.9,430.6 440.7,430.6 440.7,430.7 442.2,430.7 442.2,428.3 444.1,428.3 444.1,428.0 446.0,428.0 446.0,427.4 447.9,427.4 447.9,427.7 449.8,427.7 449.8,428.0 451.7,428.0 451.7,427.5 453.3,427.5 453.3,427.4 454.9,427.4 454.9,426.8 456.4,426.8 456.4,426.5 458.0,426.5 458.0,426.0 459.6,426.0 459.6,427.1 461.1,427.1 461.1,428.3 462.7,428.3 462.7,427.1 464.2,427.1 464.2,426.9 465.8,426.9 465.8,425.9 467.4,425.9 467.4,425.2 469.3,425.2 469.3,425.0 471.2,425.0 471.2,424.7 473.1,424.7 473.1,423.7 475.0,423.7 475.0,423.4 476.9,423.4 476.9,422.8 478.5,422.8 478.5,423.5 480.0,423.5 480.0,423.5 481.6,423.5 481.6,423.7 483.2,423.7 483.2,424.4 484.8,424.4 484.8,424.3 486.4,424.3 486.4,424.1 487.9,424.1 487.9,423.5 489.5,423.5 489.5,422.8 491.5,422.8 491.5,423.0 493.4,423.0 493.4,423.2 495.4,423.2 495.4,423.0 497.4,423.0 497.4,422.8 498.7,422.8 498.7,419.9 500.0,419.9 500.0,416.7 501.8,416.7 501.8,417.2 503.6,417.2 503.6,417.6 505.4,417.6 505.4,418.5 507.3,418.5 507.3,418.4 509.1,418.4 509.1,419.4 510.9,419.4 510.9,420.0 512.7,420.0 512.7,419.6 514.6,419.6 514.6,418.8 516.4,418.8 516.4,418.0 518.2,418.0 518.2,416.8 520.1,416.8 520.1,416.2 521.9,416.2 521.9,415.6 523.7,415.6 523.7,415.4 525.5,415.4 525.5,415.4 527.3,415.4 527.3,414.9 529.2,414.9 529.2,415.1 531.0,415.1 531.0,415.2 532.8,415.2 532.8,414.5 534.3,414.5 534.3,412.3 535.7,412.3 535.7,411.1 537.2,411.1 537.2,409.1 538.9,409.1 538.9,409.2 540.7,409.2 540.7,408.5 542.4,408.5 542.4,408.4 544.2,408.4 544.2,408.8 545.9,408.8 545.9,408.0 547.0,408.0 547.0,409.6 548.1,409.6 548.1,412.3 549.8,412.3 549.8,411.3 551.4,411.3 551.4,409.7 553.1,409.7 553.1,409.4 554.7,409.4 554.7,408.0 556.4,408.0 556.4,407.4 558.2,407.4 558.2,405.8 559.9,405.8 559.9,404.2 561.7,404.2 561.7,403.7 563.4,403.7 563.4,402.5 565.0,402.5 565.0,402.8 566.7,402.8 566.7,403.3 568.4,403.3 568.4,403.3 570.0,403.3 570.0,403.6 571.5,403.6 571.5,402.7 572.9,402.7 572.9,401.8 574.4,401.8 574.4,400.3 576.0,400.3 576.0,401.4 577.6,401.4 577.6,402.4 579.3,402.4 579.3,404.1 580.9,404.1 580.9,404.7 582.5,404.7 582.5,403.8 584.2,403.8 584.2,403.8 585.9,403.8 585.9,402.9 587.5,402.9 587.5,402.5 589.0,402.5 589.0,404.3 590.4,404.3 590.4,405.0 591.9,405.0 591.9,406.9 593.7,406.9 593.7,407.1 595.5,407.1 595.5,406.0 597.3,406.0 597.3,405.3 599.2,405.3 599.2,405.2 601.0,405.2 601.0,404.9 602.8,404.9 602.8,404.7 604.6,404.7 604.6,403.7 606.5,403.7 606.5,403.9 608.3,403.9 608.3,403.5 610.1,403.5 610.1,403.5 612.0,403.5 612.0,402.7 613.8,402.7 613.8,402.5 615.5,402.5 615.5,401.6 617.3,401.6 617.3,400.8 619.0,400.8 619.0,400.8 620.8,400.8 620.8,400.4 622.5,400.4 622.5,399.2 624.4,399.2 624.4,398.9 626.2,398.9 626.2,398.2 628.1,398.2 628.1,398.6 630.0,398.6 630.0,397.8 631.9,397.8 631.9,397.3 633.7,397.3 633.7,396.9 635.6,396.9 635.6,397.0 637.4,397.0 637.4,397.3 639.3,397.3 639.3,397.4 641.1,397.4 641.1,397.2 642.9,397.2 642.9,397.0 644.8,397.0 644.8,397.1 646.6,397.1 646.6,397.0 648.2,397.0 648.2,396.1 649.9,396.1 649.9,396.5 651.5,396.5 651.5,395.2 653.1,395.2 653.1,394.8 654.9,394.8 654.9,395.6 656.6,395.6 656.6,396.5 658.4,396.5 658.4,397.2 660.1,397.2 660.1,397.4 661.9,397.4 661.9,398.1 663.4,398.1 663.4,398.6 664.8,398.6 664.8,399.6 666.3,399.6 666.3,400.3 668.0,400.3 668.0,399.2 669.8,399.2 669.8,399.4 671.5,399.4 671.5,398.1 673.3,398.1 673.3,398.1 675.0,398.1 675.0,397.0 676.8,397.0 676.8,396.1 678.5,396.1 678.5,395.6 680.3,395.6 680.3,394.8 682.0,394.8 682.0,394.4 683.8,394.4 683.8,393.8 685.5,393.8 685.5,393.0 687.3,393.0 687.3,392.3 689.0,392.3 689.0,392.7 690.8,392.7 690.8,391.8 692.5,391.8 692.5,391.6 694.3,391.6 694.3,390.9 696.0,390.9 696.0,390.5 697.8,390.5 697.8,390.3 699.5,390.3 699.5,389.8 701.3,389.8 701.3,389.4 703.2,389.4 703.2,388.5 705.1,388.5 705.1,387.4 707.0,387.4 707.0,386.0 708.9,386.0 708.9,385.6 710.8,385.6 710.8,384.0 712.4,384.0 712.4,383.6 714.1,383.6 714.1,381.8 715.7,381.8 715.7,381.9 717.4,381.9 717.4,381.2 719.0,381.2 719.0,379.9 720.6,379.9 720.6,380.5 722.2,380.5 722.2,380.0 723.9,380.0 723.9,381.1 725.5,381.1 725.5,381.2 727.1,381.2 727.1,381.3 729.0,381.3 729.0,380.7 731.0,380.7 731.0,380.7 732.9,380.7 732.9,381.8 734.8,381.8 734.8,381.5 736.7,381.5 736.7,381.0 738.7,381.0 738.7,380.8 740.6,380.8 740.6,381.3 742.5,381.3 742.5,380.3 744.5,380.3 744.5,379.8 746.4,379.8 746.4,379.9 748.4,379.9 748.4,378.8 750.3,378.8 750.3,378.0 752.3,378.0 752.3,378.3 754.2,378.3 754.2,377.2 756.1,377.2 756.1,376.6 758.1,376.6 758.1,374.9 760.0,374.9 760.0,374.8 761.9,374.8 761.9,373.4 763.8,373.4 763.8,372.7 765.8,372.7 765.8,371.6 767.7,371.6 767.7,370.4 769.6,370.4 769.6,370.3 771.6,370.3 771.6,369.6 773.5,369.6 773.5,369.1 775.5,369.1 775.5,367.8 777.4,367.8 777.4,367.8 779.4,367.8 779.4,367.0 781.3,367.0 781.3,366.4 783.2,366.4 783.2,365.7 785.2,365.7 785.2,364.4 787.1,364.4 787.1,363.9 789.0,363.9 789.0,362.6 790.9,362.6 790.9,361.3 792.9,361.3 792.9,360.3 794.8,360.3 794.8,359.6 796.4,359.6 796.4,358.3 798.0,358.3 798.0,358.0 799.7,358.0 799.7,356.6 801.3,356.6 801.3,356.3 802.9,356.3 802.9,355.5 804.7,355.5 804.7,355.3 806.5,355.3 806.5,356.0 808.3,356.0 808.3,356.2 810.2,356.2 810.2,356.5 812.0,356.5 812.0,357.1 813.8,357.1 813.8,356.9 815.4,356.9 815.4,356.0 817.0,356.0 817.0,356.7 818.7,356.7 818.7,356.0 820.3,356.0 820.3,355.9 821.9,355.9 821.9,355.5 823.8,355.5 823.8,354.9 825.8,354.9 825.8,354.4 827.7,354.4 827.7,353.0 829.6,353.0 829.6,352.3 831.5,352.3 831.5,352.2 833.5,352.2 833.5,350.4 835.4,350.4 835.4,350.1 837.3,350.1 837.3,350.1 839.3,350.1 839.3,349.9 841.2,349.9 841.2,349.0 843.2,349.0 843.2,349.5 845.1,349.5 845.1,349.4 847.1,349.4 847.1,349.5 849.0,349.5 849.0,348.8 850.6,348.8 850.6,348.0 852.2,348.0 852.2,348.3 853.9,348.3 853.9,347.1 855.5,347.1 855.5,346.5 857.1,346.5 857.1,346.0 858.9,346.0 858.9,345.8 860.7,345.8 860.7,344.1 862.5,344.1 862.5,344.3 864.3,344.3 864.3,343.5 866.1,343.5 866.1,342.5 867.9,342.5 867.9,342.0 869.7,342.0 869.7,341.8 871.5,341.8 871.5,340.5 873.3,340.5 873.3,339.9 875.2,339.9 875.2,339.3 877.0,339.3 877.0,338.9 878.8,338.9 878.8,337.9 880.6,337.9 880.6,336.2 882.4,336.2 882.4,335.1 884.2,335.1 884.2,333.8 886.0,333.8 886.0,332.6 887.8,332.6 887.8,331.5 889.6,331.5 889.6,329.8 891.2,329.8 891.2,328.2 892.8,328.2 892.8,327.5 894.5,327.5 894.5,325.6 896.1,325.6 896.1,324.4 897.7,324.4 897.7,323.0 899.5,323.0 899.5,322.5 901.3,322.5 901.3,322.6 903.2,322.6 903.2,322.9 905.0,322.9 905.0,322.3 906.8,322.3 906.8,322.3 908.6,322.3 908.6,321.7 910.5,321.7 910.5,320.7 912.5,320.7 912.5,319.9 914.4,319.9 914.4,319.1 916.3,319.1 916.3,318.7 918.2,318.7 918.2,318.0 920.2,318.0 920.2,317.4 922.1,317.4 922.1,316.3 923.9,316.3 923.9,315.5 925.7,315.5 925.7,316.1 927.5,316.1 927.5,316.1 929.3,316.1 929.3,315.4 931.1,315.4 931.1,314.6 932.9,314.6 932.9,314.9 934.7,314.9 934.7,314.0 936.5,314.0 936.5,313.0 938.3,313.0 938.3,313.0 939.7,313.0 939.7,312.6 941.0,312.6 941.0,313.5 942.4,313.5 942.4,313.0 943.8,313.0 943.8,316.1 945.1,316.1 945.1,319.0 946.5,319.0 946.5,319.6 947.8,319.6 947.8,320.2 949.2,320.2 949.2,320.3 950.9,320.3 950.9,321.3 952.7,321.3 952.7,321.4 954.4,321.4 954.4,321.7" fill="none" stroke="#e455e4" stroke-width="1.35" stroke-linejoin="round"/>
<polyline points="36.5,483.1 39.0,483.1 39.0,483.0 41.5,483.0 41.5,482.9 43.9,482.9 43.9,482.8 46.4,482.8 46.4,482.6 48.7,482.6 48.7,482.6 51.0,482.6 51.0,482.6 53.4,482.6 53.4,482.2 55.7,482.2 55.7,482.4 58.0,482.4 58.0,482.2 60.3,482.2 60.3,482.3 62.7,482.3 62.7,481.8 65.0,481.8 65.0,481.8 67.3,481.8 67.3,481.9 69.6,481.9 69.6,481.5 71.9,481.5 71.9,481.9 74.2,481.9 74.2,481.8 76.5,481.8 76.5,481.6 78.9,481.6 78.9,481.3 81.2,481.3 81.2,481.5 83.5,481.5 83.5,481.4 85.8,481.4 85.8,481.1 88.1,481.1 88.1,481.0 90.4,481.0 90.4,480.7 92.7,480.7 92.7,480.7 95.0,480.7 95.0,480.6 97.3,480.6 97.3,480.4 99.7,480.4 99.7,480.4 102.0,480.4 102.0,480.4 104.3,480.4 104.3,480.5 106.6,480.5 106.6,479.8 108.9,479.8 108.9,480.0 111.3,480.0 111.3,480.0 113.8,480.0 113.8,479.7 116.2,479.7 116.2,479.7 118.7,479.7 118.7,480.1 121.1,480.1 121.1,480.0 123.6,480.0 123.6,480.2 126.0,480.2 126.0,479.9 128.4,479.9 128.4,479.8 130.7,479.8 130.7,479.4 133.1,479.4 133.1,479.6 135.4,479.6 135.4,479.6 137.8,479.6 137.8,479.8 140.1,479.8 140.1,479.7 142.5,479.7 142.5,479.3 144.8,479.3 144.8,479.2 147.2,479.2 147.2,478.9 149.5,478.9 149.5,479.2 151.9,479.2 151.9,479.0 154.3,479.0 154.3,478.6 156.6,478.6 156.6,478.4 159.0,478.4 159.0,478.1 161.3,478.1 161.3,477.8 163.7,477.8 163.7,478.0 166.0,478.0 166.0,477.5 168.4,477.5 168.4,477.8 170.7,477.8 170.7,477.0 173.1,477.0 173.1,477.3 175.4,477.3 175.4,476.6 177.8,476.6 177.8,476.6 180.2,476.6 180.2,476.3 182.5,476.3 182.5,476.6 184.9,476.6 184.9,476.3 187.2,476.3 187.2,476.5 189.6,476.5 189.6,476.1 191.9,476.1 191.9,476.0 194.3,476.0 194.3,476.4 196.6,476.4 196.6,476.3 199.0,476.3 199.0,476.3 201.3,476.3 201.3,476.2 203.7,476.2 203.7,476.0 206.1,476.0 206.1,475.7 208.4,475.7 208.4,476.0 210.8,476.0 210.8,476.0 213.2,476.0 213.2,475.8 215.5,475.8 215.5,476.0 217.9,476.0 217.9,475.5 220.2,475.5 220.2,475.9 222.6,475.9 222.6,475.7 225.0,475.7 225.0,475.2 227.3,475.2 227.3,475.2 229.7,475.2 229.7,475.4 232.0,475.4 232.0,475.4 234.4,475.4 234.4,475.4 236.7,475.4 236.7,474.8 239.0,474.8 239.0,474.9 241.3,474.9 241.3,475.0 243.7,475.0 243.7,474.6 246.0,474.6 246.0,474.7 248.4,474.7 248.4,474.9 250.8,474.9 250.8,474.6 253.1,474.6 253.1,474.2 255.5,474.2 255.5,474.4 257.9,474.4 257.9,474.4 260.2,474.4 260.2,474.3 262.6,474.3 262.6,474.4 265.0,474.4 265.0,474.2 267.4,474.2 267.4,474.1 269.8,474.1 269.8,474.5 272.2,474.5 272.2,474.4 274.6,474.4 274.6,474.6 277.0,474.6 277.0,474.7 279.4,474.7 279.4,474.6 281.8,474.6 281.8,474.7 284.2,474.7 284.2,475.0 286.6,475.0 286.6,475.2 289.0,475.2 289.0,475.0 290.5,475.0 290.5,469.2 292.4,469.2 292.4,469.3 294.4,469.3 294.4,469.0 296.4,469.0 296.4,468.7 298.3,468.7 298.3,468.8 300.8,468.8 300.8,468.4 303.3,468.4 303.3,468.8 305.8,468.8 305.8,468.5 308.3,468.5 308.3,468.4 310.8,468.4 310.8,468.0 313.3,468.0 313.3,468.1 315.8,468.1 315.8,468.2 318.3,468.2 318.3,467.9 320.8,467.9 320.8,467.7 323.3,467.7 323.3,467.5 325.7,467.5 325.7,467.2 328.1,467.2 328.1,467.1 330.5,467.1 330.5,467.2 332.8,467.2 332.8,466.7 335.2,466.7 335.2,466.7 337.6,466.7 337.6,466.5 340.0,466.5 340.0,466.5 342.4,466.5 342.4,466.3 344.8,466.3 344.8,465.8 347.2,465.8 347.2,465.4 349.5,465.4 349.5,465.4 351.9,465.4 351.9,465.3 354.3,465.3 354.3,465.2 356.7,465.2 356.7,465.0 359.2,465.0 359.2,464.9 361.7,464.9 361.7,464.6 364.2,464.6 364.2,463.8 366.7,463.8 366.7,463.9 369.2,463.9 369.2,463.6 371.7,463.6 371.7,463.3 374.2,463.3 374.2,462.9 376.7,462.9 376.7,462.5 379.0,462.5 379.0,462.4 381.4,462.4 381.4,462.7 383.7,462.7 383.7,462.7 386.0,462.7 386.0,462.6 388.4,462.6 388.4,462.7 390.7,462.7 390.7,462.4 393.0,462.4 393.0,462.3 395.3,462.3 395.3,462.5 397.7,462.5 397.7,462.7 400.0,462.7 400.0,462.5 402.4,462.5 402.4,462.3 404.8,462.3 404.8,462.6 407.2,462.6 407.2,462.7 409.6,462.7 409.6,462.2 412.0,462.2 412.0,462.4 414.5,462.4 414.5,462.4 416.9,462.4 416.9,462.3 419.3,462.3 419.3,462.1 421.7,462.1 421.7,462.1 424.1,462.1 424.1,462.4 426.5,462.4 426.5,462.2 428.9,462.2 428.9,462.2 431.3,462.2 431.3,461.8 433.8,461.8 433.8,461.4 436.2,461.4 436.2,461.6 438.6,461.6 438.6,461.4 441.0,461.4 441.0,460.9 443.5,460.9 443.5,461.0 445.9,461.0 445.9,461.0 448.3,461.0 448.3,460.8 450.7,460.8 450.7,460.4 453.2,460.4 453.2,460.2 455.6,460.2 455.6,460.0 458.0,460.0 458.0,459.8 460.2,459.8 460.2,459.5 462.5,459.5 462.5,459.4 464.8,459.4 464.8,459.3 467.0,459.3 467.0,459.5 469.2,459.5 469.2,459.2 471.5,459.2 471.5,459.2 473.8,459.2 473.8,459.0 476.0,459.0 476.0,459.0 478.2,459.0 478.2,459.0 480.5,459.0 480.5,458.8 482.8,458.8 482.8,458.7 485.0,458.7 485.0,459.3 487.2,459.3 487.2,458.9 489.5,458.9 489.5,459.0 491.6,459.0 491.6,458.6 493.7,458.6 493.7,458.8 495.8,458.8 495.8,458.8 497.9,458.8 497.9,458.2 500.0,458.2 500.0,458.3 502.4,458.3 502.4,458.1 504.9,458.1 504.9,457.7 507.3,457.7 507.3,457.6 509.7,457.6 509.7,457.0 512.2,457.0 512.2,456.8 514.6,456.8 514.6,457.1 517.0,457.1 517.0,456.8 519.5,456.8 519.5,456.3 521.9,456.3 521.9,456.1 524.3,456.1 524.3,456.3 526.8,456.3 526.8,456.2 529.2,456.2 529.2,456.6 531.6,456.6 531.6,456.5 534.1,456.5 534.1,457.0 536.5,457.0 536.5,457.0 538.9,457.0 538.9,457.1 541.4,457.1 541.4,457.4 543.8,457.4 543.8,457.2 546.2,457.2 546.2,456.8 548.6,456.8 548.6,456.4 551.1,456.4 551.1,456.3 553.5,456.3 553.5,456.0 555.9,456.0 555.9,455.7 558.3,455.7 558.3,455.5 560.8,455.5 560.8,455.5 563.2,455.5 563.2,455.5 565.6,455.5 565.6,455.0 568.0,455.0 568.0,454.9 570.5,454.9 570.5,455.0 572.9,455.0 572.9,454.9 575.3,454.9 575.3,454.2 577.8,454.2 577.8,454.4 580.2,454.4 580.2,454.2 582.6,454.2 582.6,453.9 585.1,453.9 585.1,454.3 587.5,454.3 587.5,453.9 589.9,453.9 589.9,453.6 592.4,453.6 592.4,453.7 594.8,453.7 594.8,453.6 597.2,453.6 597.2,453.7 599.7,453.7 599.7,453.4 602.1,453.4 602.1,453.1 604.5,453.1 604.5,453.0 607.0,453.0 607.0,452.7 609.4,452.7 609.4,452.8 611.6,452.8 611.6,452.4 613.8,452.4 613.8,451.8 615.9,451.8 615.9,450.7 618.1,450.7 618.1,449.9 620.3,449.9 620.3,449.5 622.7,449.5 622.7,449.2 625.2,449.2 625.2,449.2 627.6,449.2 627.6,449.4 630.0,449.4 630.0,449.3 632.5,449.3 632.5,449.1 634.9,449.1 634.9,448.5 637.3,448.5 637.3,448.8 639.8,448.8 639.8,448.6 642.2,448.6 642.2,448.4 644.4,448.4 644.4,448.1 646.6,448.1 646.6,447.9 648.7,447.9 648.7,446.9 650.9,446.9 650.9,446.5 653.1,446.5 653.1,446.3 655.5,446.3 655.5,446.3 658.0,446.3 658.0,446.3 660.4,446.3 660.4,446.0 662.8,446.0 662.8,445.7 665.3,445.7 665.3,445.7 667.7,445.7 667.7,445.7 670.1,445.7 670.1,445.2 672.6,445.2 672.6,445.2 675.0,445.2 675.0,445.2 677.2,445.2 677.2,444.9 679.4,444.9 679.4,444.6 681.5,444.6 681.5,444.6 683.7,444.6 683.7,444.3 685.9,444.3 685.9,444.1 688.1,444.1 688.1,444.1 690.5,444.1 690.5,443.8 693.0,443.8 693.0,444.0 695.4,444.0 695.4,443.4 697.8,443.4 697.8,443.7 700.3,443.7 700.3,443.3 702.7,443.3 702.7,443.1 705.1,443.1 705.1,443.5 707.6,443.5 707.6,443.0 710.0,443.0 710.0,443.0 712.4,443.0 712.4,443.0 714.9,443.0 714.9,442.8 717.3,442.8 717.3,442.5 719.8,442.5 719.8,441.9 722.2,441.9 722.2,441.8 724.7,441.8 724.7,441.4 727.1,441.4 727.1,441.4 729.6,441.4 729.6,441.5 732.0,441.5 732.0,441.3 734.5,441.3 734.5,441.0 737.0,441.0 737.0,440.7 739.4,440.7 739.4,440.4 741.9,440.4 741.9,440.6 744.3,440.6 744.3,440.2 746.8,440.2 746.8,440.1 749.3,440.1 749.3,439.6 751.7,439.6 751.7,439.5 754.2,439.5 754.2,439.5 756.7,439.5 756.7,439.2 759.1,439.2 759.1,439.5 761.6,439.5 761.6,439.3 764.1,439.3 764.1,439.0 766.5,439.0 766.5,439.4 769.0,439.4 769.0,438.9 771.4,438.9 771.4,438.9 773.9,438.9 773.9,438.7 776.4,438.7 776.4,438.7 778.8,438.7 778.8,439.0 781.3,439.0 781.3,438.7 783.8,438.7 783.8,438.5 786.2,438.5 786.2,438.4 788.7,438.4 788.7,438.5 791.1,438.5 791.1,438.4 793.6,438.4 793.6,438.7 796.0,438.7 796.0,438.1 798.5,438.1 798.5,438.6 800.9,438.6 800.9,438.0 803.4,438.0 803.4,438.4 805.8,438.4 805.8,438.3 808.3,438.3 808.3,438.1 810.8,438.1 810.8,437.8 813.2,437.8 813.2,437.9 815.7,437.9 815.7,437.6 818.2,437.6 818.2,437.5 820.6,437.5 820.6,437.3 823.1,437.3 823.1,437.3 825.5,437.3 825.5,437.6 828.0,437.6 828.0,437.5 830.5,437.5 830.5,437.3 832.9,437.3 832.9,436.7 835.4,436.7 835.4,436.8 837.9,436.8 837.9,436.5 840.3,436.5 840.3,436.8 842.8,436.8 842.8,436.2 845.3,436.2 845.3,436.4 847.7,436.4 847.7,436.0 850.2,436.0 850.2,436.3 852.6,436.3 852.6,435.6 855.1,435.6 855.1,436.0 857.6,436.0 857.6,435.6 860.0,435.6 860.0,435.3 862.5,435.3 862.5,435.4 865.0,435.4 865.0,435.0 867.4,435.0 867.4,435.4 869.9,435.4 869.9,435.1 872.4,435.1 872.4,434.7 874.8,434.7 874.8,434.8 877.3,434.8 877.3,434.9 879.7,434.9 879.7,434.4 882.2,434.4 882.2,434.5 884.7,434.5 884.7,434.1 887.1,434.1 887.1,434.0 889.6,434.0 889.6,434.1 892.0,434.1 892.0,434.1 894.4,434.1 894.4,433.9 896.7,433.9 896.7,433.4 899.1,433.4 899.1,433.1 901.5,433.1 901.5,433.0 903.9,433.0 903.9,433.1 906.2,433.1 906.2,432.9 908.6,432.9 908.6,432.7 910.0,432.7 910.0,429.9 911.3,429.9 911.3,427.3 913.7,427.3 913.7,426.9 916.0,426.9 916.0,427.0 918.4,427.0 918.4,426.9 920.8,426.9 920.8,426.8 923.1,426.8 923.1,426.5 925.5,426.5 925.5,426.1 927.8,426.1 927.8,425.8 930.2,425.8 930.2,425.9 932.6,425.9 932.6,425.9 935.0,425.9 935.0,425.6 937.5,425.6 937.5,425.6 939.9,425.6 939.9,425.1 942.3,425.1 942.3,425.4 944.7,425.4 944.7,425.0 947.1,425.0 947.1,425.2 949.6,425.2 949.6,425.1 952.0,425.1 952.0,424.7 954.4,424.7 954.4,424.6" fill="none" stroke="#e44848" stroke-width="1.4" stroke-linejoin="round"/>
<polyline points="36.5,483.6 38.9,483.6 38.9,483.2 41.2,483.2 41.2,483.5 43.6,483.5 43.6,483.1 46.0,483.1 46.0,483.2 48.3,483.2 48.3,482.7 50.7,482.7 50.7,482.5 53.1,482.5 53.1,482.7 55.5,482.7 55.5,482.3 57.8,482.3 57.8,482.0 60.2,482.0 60.2,482.0 62.6,482.0 62.6,482.0 64.9,482.0 64.9,481.5 67.3,481.5 67.3,481.6 69.6,481.6 69.6,481.5 71.9,481.5 71.9,481.3 74.2,481.3 74.2,481.2 76.5,481.2 76.5,480.9 78.9,480.9 78.9,481.1 81.2,481.1 81.2,481.1 83.5,481.1 83.5,481.0 85.8,481.0 85.8,480.5 88.1,480.5 88.1,480.5 90.5,480.5 90.5,480.6 93.0,480.6 93.0,480.3 95.4,480.3 95.4,480.5 97.8,480.5 97.8,480.0 100.3,480.0 100.3,480.4 102.7,480.4 102.7,480.4 105.1,480.4 105.1,480.1 107.6,480.1 107.6,480.1 110.0,480.1 110.0,480.0 112.5,480.0 112.5,479.9 115.0,479.9 115.0,479.9 117.5,479.9 117.5,479.5 120.0,479.5 120.0,479.9 122.5,479.9 122.5,479.4 125.0,479.4 125.0,479.3 127.5,479.3 127.5,479.2 130.0,479.2 130.0,479.2 132.5,479.2 132.5,479.4 135.0,479.4 135.0,478.9 137.5,478.9 137.5,478.8 140.0,478.8 140.0,479.0 142.5,479.0 142.5,479.0 145.0,479.0 145.0,478.6 147.5,478.6 147.5,478.3 150.0,478.3 150.0,478.6 152.5,478.6 152.5,478.4 155.0,478.4 155.0,478.3 157.5,478.3 157.5,478.2 160.0,478.2 160.0,477.8 162.5,477.8 162.5,478.1 165.0,478.1 165.0,477.9 167.5,477.9 167.5,477.4 170.0,477.4 170.0,477.3 172.5,477.3 172.5,477.4 175.0,477.4 175.0,477.3 177.5,477.3 177.5,477.0 180.0,477.0 180.0,477.0 182.5,477.0 182.5,476.6 185.0,476.6 185.0,476.7 187.5,476.7 187.5,476.4 190.0,476.4 190.0,476.6 192.5,476.6 192.5,476.6 195.0,476.6 195.0,476.0 197.5,476.0 197.5,476.2 200.0,476.2 200.0,476.1 202.5,476.1 202.5,475.7 205.0,475.7 205.0,475.9 207.5,475.9 207.5,475.9 210.0,475.9 210.0,475.5 212.2,475.5 212.2,474.7 214.5,474.7 214.5,474.1 216.7,474.1 216.7,473.4 219.0,473.4 219.0,473.6 221.3,473.6 221.3,473.4 223.6,473.4 223.6,473.3 225.9,473.3 225.9,473.7 228.2,473.7 228.2,473.6 230.5,473.6 230.5,473.3 232.8,473.3 232.8,473.2 235.1,473.2 235.1,473.3 237.4,473.3 237.4,473.4 238.7,473.4 238.7,472.4 240.0,472.4 240.0,471.5 242.5,471.5 242.5,471.8 245.0,471.8 245.0,471.7 247.5,471.7 247.5,471.7 250.0,471.7 250.0,471.7 252.5,471.7 252.5,471.7 255.0,471.7 255.0,471.2 257.5,471.2 257.5,471.5 260.0,471.5 260.0,471.5 262.5,471.5 262.5,471.6 265.0,471.6 265.0,471.5 267.5,471.5 267.5,471.0 270.0,471.0 270.0,471.0 272.5,471.0 272.5,471.0 275.0,471.0 275.0,470.7 277.5,470.7 277.5,470.6 280.0,470.6 280.0,470.2 282.5,470.2 282.5,470.3 285.0,470.3 285.0,470.3 287.5,470.3 287.5,469.8 290.0,469.8 290.0,470.0 292.5,470.0 292.5,469.7 295.0,469.7 295.0,470.0 297.5,470.0 297.5,469.8 300.0,469.8 300.0,469.8 302.5,469.8 302.5,469.5 305.0,469.5 305.0,469.4 307.5,469.4 307.5,469.4 310.0,469.4 310.0,469.2 312.5,469.2 312.5,468.6 315.0,468.6 315.0,468.8 317.5,468.8 317.5,468.5 320.0,468.5 320.0,468.6 322.5,468.6 322.5,468.2 325.0,468.2 325.0,468.3 327.5,468.3 327.5,468.4 330.0,468.4 330.0,468.1 332.5,468.1 332.5,467.7 335.0,467.7 335.0,467.8 337.5,467.8 337.5,467.6 340.0,467.6 340.0,467.5 342.4,467.5 342.4,467.3 344.9,467.3 344.9,466.5 347.3,466.5 347.3,466.0 349.8,466.0 349.8,465.8 352.2,465.8 352.2,465.0 354.7,465.0 354.7,464.9 357.1,464.9 357.1,464.6 359.6,464.6 359.6,463.9 362.0,463.9 362.0,463.3 364.5,463.3 364.5,463.0 366.9,463.0 366.9,462.6 369.4,462.6 369.4,461.9 371.8,461.9 371.8,461.5 374.3,461.5 374.3,461.0 376.7,461.0 376.7,460.8 379.0,460.8 379.0,460.6 381.4,460.6 381.4,460.6 383.7,460.6 383.7,460.4 386.0,460.4 386.0,460.3 388.4,460.3 388.4,460.2 390.7,460.2 390.7,460.3 393.0,460.3 393.0,460.4 395.3,460.4 395.3,460.2 397.7,460.2 397.7,460.1 400.0,460.1 400.0,460.0 402.5,460.0 402.5,460.0 405.0,460.0 405.0,459.6 407.4,459.6 407.4,459.8 409.9,459.8 409.9,459.6 412.4,459.6 412.4,459.5 414.9,459.5 414.9,459.4 417.4,459.4 417.4,459.2 419.9,459.2 419.9,459.0 422.3,459.0 422.3,458.9 424.8,458.9 424.8,458.8 427.3,458.8 427.3,458.8 429.8,458.8 429.8,458.7 432.3,458.7 432.3,458.7 434.8,458.7 434.8,458.2 437.2,458.2 437.2,458.3 439.7,458.3 439.7,458.5 442.2,458.5 442.2,458.2 444.6,458.2 444.6,458.0 447.0,458.0 447.0,458.1 449.4,458.1 449.4,458.0 451.9,458.0 451.9,457.9 454.3,457.9 454.3,458.2 456.7,458.2 456.7,457.8 459.1,457.8 459.1,458.0 461.5,458.0 461.5,457.6 463.9,457.6 463.9,457.5 466.3,457.5 466.3,457.9 468.8,457.9 468.8,457.6 471.2,457.6 471.2,457.3 473.6,457.3 473.6,457.5 476.0,457.5 476.0,457.5 478.4,457.5 478.4,457.4 480.8,457.4 480.8,457.6 483.2,457.6 483.2,457.2 485.6,457.2 485.6,457.2 488.0,457.2 488.0,457.6 490.4,457.6 490.4,457.5 492.8,457.5 492.8,457.1 495.2,457.1 495.2,457.2 497.6,457.2 497.6,457.1 500.0,457.1 500.0,457.2 502.4,457.2 502.4,457.0 504.9,457.0 504.9,456.7 507.3,456.7 507.3,456.5 509.7,456.5 509.7,456.2 512.2,456.2 512.2,455.8 514.6,455.8 514.6,455.6 517.0,455.6 517.0,455.3 519.5,455.3 519.5,455.0 521.9,455.0 521.9,454.6 524.3,454.6 524.3,454.5 526.8,454.5 526.8,454.6 529.2,454.6 529.2,454.5 531.6,454.5 531.6,454.5 534.1,454.5 534.1,454.0 536.5,454.0 536.5,454.4 538.9,454.4 538.9,453.8 541.4,453.8 541.4,454.1 543.8,454.1 543.8,453.9 546.2,453.9 546.2,453.8 548.6,453.8 548.6,453.7 551.1,453.7 551.1,453.8 553.5,453.8 553.5,453.5 555.9,453.5 555.9,453.2 558.3,453.2 558.3,453.3 560.8,453.3 560.8,453.3 563.2,453.3 563.2,453.0 565.6,453.0 565.6,452.8 567.8,452.8 567.8,452.2 570.0,452.2 570.0,451.7 572.2,451.7 572.2,451.1 574.4,451.1 574.4,450.6 576.6,450.6 576.6,450.4 578.8,450.4 578.8,449.7 581.0,449.7 581.0,449.4 583.1,449.4 583.1,449.2 585.3,449.2 585.3,448.7 587.5,448.7 587.5,448.4 589.9,448.4 589.9,448.2 592.4,448.2 592.4,448.4 594.8,448.4 594.8,448.3 597.2,448.3 597.2,448.0 599.7,448.0 599.7,447.8 602.1,447.8 602.1,447.5 604.5,447.5 604.5,447.5 607.0,447.5 607.0,447.3 609.4,447.3 609.4,447.4 611.8,447.4 611.8,447.3 614.3,447.3 614.3,447.2 616.7,447.2 616.7,446.8 619.1,446.8 619.1,447.2 621.6,447.2 621.6,446.7 624.0,446.7 624.0,446.9 626.4,446.9 626.4,446.7 628.9,446.7 628.9,446.7 631.3,446.7 631.3,446.3 633.7,446.3 633.7,445.9 636.1,445.9 636.1,445.8 638.6,445.8 638.6,445.8 641.0,445.8 641.0,445.0 643.4,445.0 643.4,444.8 645.8,444.8 645.8,444.9 648.3,444.9 648.3,444.6 650.7,444.6 650.7,444.6 653.1,444.6 653.1,444.1 655.5,444.1 655.5,444.0 658.0,444.0 658.0,443.6 660.4,443.6 660.4,443.7 662.8,443.7 662.8,443.1 665.3,443.1 665.3,442.9 667.7,442.9 667.7,442.7 670.1,442.7 670.1,442.3 672.6,442.3 672.6,442.1 675.0,442.1 675.0,441.9 677.4,441.9 677.4,442.1 679.9,442.1 679.9,442.1 682.3,442.1 682.3,442.5 684.7,442.5 684.7,442.5 687.2,442.5 687.2,442.5 689.6,442.5 689.6,442.4 692.0,442.4 692.0,442.7 694.5,442.7 694.5,442.8 696.9,442.8 696.9,443.0 699.1,443.0 699.1,443.0 701.3,443.0 701.3,443.0 703.5,443.0 703.5,443.2 705.6,443.2 705.6,443.3 707.8,443.3 707.8,443.0 710.0,443.0 710.0,443.0 712.5,443.0 712.5,442.8 714.9,442.8 714.9,442.8 717.4,442.8 717.4,442.9 719.8,442.9 719.8,442.4 722.3,442.4 722.3,442.4 724.8,442.4 724.8,442.5 727.2,442.5 727.2,442.0 729.7,442.0 729.7,441.9 732.1,441.9 732.1,442.2 734.6,442.2 734.6,442.0 737.0,442.0 737.0,441.7 739.5,441.7 739.5,441.3 742.0,441.3 742.0,441.7 744.4,441.7 744.4,441.4 746.9,441.4 746.9,441.4 749.3,441.4 749.3,441.4 751.8,441.4 751.8,441.2 754.3,441.2 754.3,440.8 756.7,440.8 756.7,440.5 759.2,440.5 759.2,440.5 761.6,440.5 761.6,440.5 764.1,440.5 764.1,440.3 766.5,440.3 766.5,440.0 769.0,440.0 769.0,439.9 771.5,439.9 771.5,440.1 773.9,440.1 773.9,439.9 776.4,439.9 776.4,439.7 778.8,439.7 778.8,439.9 781.3,439.9 781.3,439.5 783.8,439.5 783.8,439.5 786.2,439.5 786.2,439.0 788.7,439.0 788.7,439.1 791.1,439.1 791.1,439.2 793.6,439.2 793.6,438.8 796.1,438.8 796.1,438.9 798.5,438.9 798.5,438.3 801.0,438.3 801.0,438.4 803.4,438.4 803.4,438.6 805.9,438.6 805.9,438.3 808.3,438.3 808.3,438.3 810.8,438.3 810.8,437.8 813.3,437.8 813.3,437.9 815.7,437.9 815.7,437.8 818.2,437.8 818.2,437.5 820.6,437.5 820.6,437.6 823.1,437.6 823.1,437.4 825.6,437.4 825.6,437.6 828.0,437.6 828.0,437.2 830.5,437.2 830.5,437.0 832.9,437.0 832.9,436.7 835.4,436.7 835.4,436.8 837.9,436.8 837.9,436.5 840.3,436.5 840.3,436.7 842.8,436.7 842.8,436.2 845.3,436.2 845.3,436.1 847.7,436.1 847.7,436.0 850.2,436.0 850.2,436.1 852.6,436.1 852.6,436.1 855.1,436.1 855.1,435.9 857.6,435.9 857.6,435.9 860.0,435.9 860.0,435.3 862.5,435.3 862.5,435.2 865.0,435.2 865.0,435.5 867.4,435.5 867.4,435.1 869.9,435.1 869.9,435.2 872.4,435.2 872.4,434.9 874.8,434.9 874.8,434.6 877.3,434.6 877.3,434.6 879.7,434.6 879.7,434.4 882.2,434.4 882.2,434.7 884.7,434.7 884.7,434.4 887.1,434.4 887.1,434.1 889.6,434.1 889.6,434.1 892.0,434.1 892.0,433.8 894.4,433.8 894.4,433.4 896.8,433.4 896.8,432.9 899.2,432.9 899.2,433.1 901.7,433.1 901.7,432.6 904.1,432.6 904.1,432.6 906.5,432.6 906.5,432.0 908.9,432.0 908.9,431.8 911.3,431.8 911.3,431.4 913.1,431.4 913.1,430.8 914.9,430.8 914.9,430.2 916.7,430.2 916.7,430.0 919.1,430.0 919.1,430.3 921.4,430.3 921.4,430.3 923.8,430.3 923.8,430.0 926.1,430.0 926.1,430.4 928.5,430.4 928.5,430.4 930.8,430.4 930.8,430.2 933.2,430.2 933.2,430.4 935.5,430.4 935.5,430.7 937.9,430.7 937.9,430.4 940.3,430.4 940.3,430.8 942.6,430.8 942.6,430.4 945.0,430.4 945.0,430.5 947.3,430.5 947.3,430.8 949.7,430.8 949.7,430.5 952.0,430.5 952.0,430.6 954.4,430.6 954.4,430.8" fill="none" stroke="#5a5ad8" stroke-width="1.3" stroke-linejoin="round"/>
<polyline points="36.5,483.1 39.5,483.1 39.5,482.6 42.4,482.6 42.4,482.1 45.4,482.1 45.4,481.6 46.4,481.6 46.4,480.0 48.5,480.0 48.5,480.0 50.6,480.0 50.6,480.0 52.7,480.0 52.7,480.0 53.7,480.0 53.7,479.0 55.8,479.0 55.8,478.8 57.9,478.8 57.9,478.6 60.0,478.6 60.0,478.4 61.0,478.4 61.0,477.4 63.8,477.4 63.8,477.4 66.7,477.4 66.7,477.4 69.5,477.4 69.5,477.4 72.3,477.4 72.3,477.4 75.1,477.4 75.1,477.4 78.0,477.4 78.0,477.4 80.8,477.4 80.8,477.4 81.8,477.4 81.8,475.3 82.9,475.3 82.9,474.3 85.8,474.3 85.8,474.3 88.8,474.3 88.8,474.3 91.7,474.3 91.7,474.3 94.6,474.3 94.6,474.3 97.6,474.3 97.6,474.3 100.5,474.3 100.5,474.3 103.5,474.3 103.5,474.3 106.4,474.3 106.4,474.3 109.3,474.3 109.3,474.3 112.3,474.3 112.3,474.3 115.2,474.3 115.2,474.3 116.2,474.3 116.2,471.1 118.5,471.1 118.5,471.0 120.9,471.0 120.9,470.9 123.2,470.9 123.2,470.7 125.6,470.7 125.6,470.6 126.6,470.6 126.6,469.6 129.1,469.6 129.1,469.6 131.6,469.6 131.6,469.6 134.0,469.6 134.0,469.5 136.5,469.5 136.5,469.5 139.0,469.5 139.0,469.5 140.3,469.5 140.3,468.2 143.2,468.2 143.2,468.1 146.1,468.1 146.1,467.9 149.0,467.9 149.0,467.8 151.9,467.8 151.9,467.6 154.7,467.6 154.7,467.5 157.5,467.5 157.5,467.4 160.3,467.4 160.3,467.3 163.0,467.3 163.0,467.2 165.8,467.2 165.8,467.1 168.6,467.1 168.6,467.0 171.4,467.0 171.4,466.9 174.0,466.9 174.0,463.7 176.6,463.7 176.6,463.6 179.2,463.6 179.2,463.5 181.8,463.5 181.8,463.4 184.3,463.4 184.3,463.3 186.9,463.3 186.9,463.2 189.5,463.2 189.5,463.1 192.1,463.1 192.1,463.0 193.4,463.0 193.4,460.1 196.0,460.1 196.0,460.0 198.6,460.0 198.6,459.8 201.2,459.8 201.2,459.6 203.7,459.6 203.7,459.5 206.3,459.5 206.3,459.4 208.9,459.4 208.9,459.2 211.5,459.2 211.5,459.0 214.1,459.0 214.1,458.7 216.7,458.7 216.7,458.5 217.4,458.5 217.4,455.9 220.3,455.9 220.3,455.8 223.1,455.8 223.1,455.7 226.0,455.7 226.0,455.6 228.8,455.6 228.8,455.6 231.7,455.6 231.7,455.5 234.5,455.5 234.5,455.4 237.4,455.4 237.4,455.3 240.0,455.3 240.0,454.0 242.7,454.0 242.7,454.0 245.3,454.0 245.3,454.1 248.0,454.1 248.0,454.1 250.6,454.1 250.6,454.2 253.3,454.2 253.3,454.2 253.8,454.2 253.8,449.6 256.5,449.6 256.5,449.7 259.2,449.7 259.2,449.8 262.0,449.8 262.0,449.8 264.8,449.8 264.8,449.9 267.5,449.9 267.5,450.0 270.0,450.0 270.0,450.1 272.5,450.1 272.5,450.3 275.0,450.3 275.0,450.4 275.4,450.4 275.4,451.7 277.8,451.7 277.8,451.6 280.2,451.6 280.2,451.6 282.6,451.6 282.6,451.6 285.0,451.6 285.0,451.5 286.7,451.5 286.7,451.2 287.5,451.2 287.5,448.3 290.0,448.3 290.0,448.3 290.4,448.3 290.4,445.4 293.1,445.4 293.1,445.3 295.8,445.3 295.8,445.3 298.5,445.3 298.5,445.2 301.3,445.2 301.3,445.1 304.0,445.1 304.0,445.1 306.7,445.1 306.7,445.0 307.5,445.0 307.5,442.1 310.2,442.1 310.2,442.1 312.9,442.1 312.9,442.1 315.6,442.1 315.6,442.1 318.3,442.1 318.3,442.1 321.1,442.1 321.1,442.5 323.9,442.5 323.9,442.9 326.7,442.9 326.7,443.3 326.7,443.3 328.3,443.3 328.3,441.7 331.1,441.7 331.1,441.6 333.9,441.6 333.9,441.4 336.6,441.4 336.6,441.2 339.4,441.2 339.4,441.1 342.2,441.1 342.2,440.9 345.0,440.9 345.0,440.8 346.7,440.8 346.7,439.2 349.6,439.2 349.6,439.0 352.5,439.0 352.5,438.8 355.4,438.8 355.4,438.5 358.3,438.5 358.3,438.3 360.0,438.3 360.0,435.0 362.6,435.0 362.6,434.9 365.2,434.9 365.2,434.8 367.8,434.8 367.8,434.7 370.5,434.7 370.5,434.5 373.1,434.5 373.1,434.4 375.7,434.4 375.7,434.3 378.3,434.3 378.3,434.2 381.2,434.2 381.2,433.8 384.1,433.8 384.1,433.4 387.1,433.4 387.1,432.9 390.0,432.9 390.0,432.5 391.7,432.5 391.7,431.3 394.5,431.3 394.5,431.5 397.3,431.5 397.3,431.8 400.1,431.8 400.1,432.0 402.9,432.0 402.9,432.2 404.4,432.2 404.4,434.6 407.3,434.6 407.3,434.7 410.3,434.7 410.3,434.8 413.2,434.8 413.2,434.9 416.1,434.9 416.1,435.1 419.0,435.1 419.0,435.2 422.0,435.2 422.0,435.3 424.9,435.3 424.9,435.4 425.7,435.4 425.7,438.5 428.0,438.5 428.0,438.5 430.4,438.5 430.4,438.5 431.2,438.5 431.2,435.4 433.6,435.4 433.6,435.2 435.9,435.2 435.9,435.0 438.3,435.0 438.3,434.8 440.7,434.8 440.7,434.6 442.2,434.6 442.2,429.9 444.9,429.9 444.9,430.0 447.6,430.0 447.6,430.1 450.3,430.1 450.3,430.2 453.0,430.2 453.0,430.4 455.7,430.4 455.7,430.5 458.4,430.5 458.4,430.6 461.1,430.6 461.1,430.7 461.9,430.7 461.9,426.7 464.3,426.7 464.3,426.2 466.6,426.2 466.6,425.7 469.0,425.7 469.0,425.2 470.6,425.2 470.6,420.4 473.1,420.4 473.1,420.4 475.6,420.4 475.6,420.4 478.2,420.4 478.2,420.4 480.7,420.4 480.7,420.4 483.2,420.4 483.2,420.4 485.3,420.4 485.3,420.7 487.4,420.7 487.4,420.9 489.5,420.9 489.5,421.2 491.9,421.2 491.9,420.8 494.2,420.8 494.2,420.4 496.5,420.4 496.5,420.0 498.9,420.0 498.9,419.6 500.0,419.6 500.0,417.8 500.5,417.8 500.5,417.3 503.1,417.3 503.1,416.9 505.7,416.9 505.7,416.5 508.3,416.5 508.3,416.0 510.9,416.0 510.9,415.6 513.8,415.6 513.8,415.6 516.6,415.6 516.6,415.5 519.4,415.5 519.4,415.5 522.3,415.5 522.3,415.4 525.1,415.4 525.1,415.4 528.0,415.4 528.0,415.4 530.9,415.4 530.9,415.3 533.7,415.3 533.7,415.3 536.5,415.3 536.5,415.2 539.4,415.2 539.4,415.2 541.6,415.2 541.6,416.7 544.3,416.7 544.3,416.7 547.0,416.7 547.0,416.7 548.1,416.7 548.1,413.4 551.0,413.4 551.0,413.5 553.9,413.5 553.9,413.6 556.9,413.6 556.9,413.8 559.8,413.8 559.8,413.9 562.7,413.9 562.7,414.0 565.6,414.0 565.6,414.1 568.6,414.1 568.6,414.3 571.5,414.3 571.5,414.4 574.4,414.4 574.4,414.5 576.6,414.5 576.6,413.8 578.7,413.8 578.7,413.0 580.9,413.0 580.9,412.3 583.1,412.3 583.1,412.7 585.3,412.7 585.3,413.0 587.5,413.0 587.5,413.4 589.7,413.4 589.7,413.0 591.9,413.0 591.9,412.7 594.1,412.7 594.1,412.3 596.2,412.3 596.2,411.2 598.4,411.2 598.4,410.2 601.1,410.2 601.1,409.6 603.9,409.6 603.9,409.1 606.6,409.1 606.6,408.6 609.4,408.6 609.4,408.0 612.3,408.0 612.3,407.3 615.2,407.3 615.2,406.5 618.1,406.5 618.1,405.8 620.3,405.8 620.3,404.7 622.5,404.7 622.5,403.6 625.1,403.6 625.1,403.2 627.7,403.2 627.7,402.7 630.4,402.7 630.4,402.3 633.0,402.3 633.0,401.8 635.6,401.8 635.6,401.4 637.8,401.4 637.8,400.3 640.0,400.3 640.0,399.2 642.2,399.2 642.2,398.5 644.4,398.5 644.4,397.7 646.6,397.7 646.6,397.0 648.8,397.0 648.8,393.8 651.3,393.8 651.3,393.8 653.9,393.8 653.9,393.8 656.5,393.8 656.5,393.8 659.0,393.8 659.0,393.8 661.5,393.8 661.5,393.8 664.1,393.8 664.1,393.8 666.8,393.8 666.8,393.5 669.5,393.5 669.5,393.2 672.3,393.2 672.3,393.0 675.0,393.0 675.0,392.7 677.6,392.7 677.6,392.3 680.2,392.3 680.2,391.8 682.9,391.8 682.9,391.4 685.5,391.4 685.5,390.9 688.1,390.9 688.1,390.5 691.0,390.5 691.0,390.1 694.0,390.1 694.0,389.8 696.9,389.8 696.9,389.4 699.8,389.4 699.8,389.8 702.7,389.8 702.7,390.1 705.6,390.1 705.6,390.5 708.2,390.5 708.2,390.6 710.8,390.6 710.8,390.7 713.6,390.7 713.6,390.6 716.5,390.6 716.5,390.5 719.3,390.5 719.3,390.3 722.1,390.3 722.1,390.2 725.0,390.2 725.0,390.1 727.8,390.1 727.8,390.0 730.7,390.0 730.7,389.9 733.5,389.9 733.5,389.8 736.3,389.8 736.3,389.6 739.2,389.6 739.2,389.5 742.0,389.5 742.0,389.4 743.3,389.4 743.3,384.0 746.2,384.0 746.2,384.1 749.2,384.1 749.2,384.2 752.1,384.2 752.1,384.3 755.0,384.3 755.0,384.4 758.0,384.4 758.0,384.5 760.9,384.5 760.9,384.6 763.8,384.6 763.8,384.8 766.8,384.8 766.8,384.9 769.7,384.9 769.7,385.0 772.6,385.0 772.6,385.1 775.6,385.1 775.6,385.2 778.5,385.2 778.5,385.3 781.3,385.3 781.3,382.6 784.3,382.6 784.3,382.6 787.2,382.6 787.2,382.6 790.2,382.6 790.2,382.6 793.1,382.6 793.1,382.6 796.1,382.6 796.1,382.6 799.0,382.6 799.0,382.6 802.0,382.6 802.0,382.6 802.9,382.6 802.9,381.3 805.5,381.3 805.5,381.3 808.1,381.3 808.1,381.3 810.7,381.3 810.7,381.3 813.2,381.3 813.2,381.3 815.8,381.3 815.8,381.3 818.4,381.3 818.4,381.3 821.0,381.3 821.0,381.3 821.9,381.3 821.9,378.5 824.6,378.5 824.6,378.2 827.3,378.2 827.3,378.0 830.0,378.0 830.0,377.7 832.7,377.7 832.7,377.5 835.4,377.5 835.4,377.2 838.1,377.2 838.1,376.2 840.8,376.2 840.8,375.1 843.6,375.1 843.6,374.1 846.3,374.1 846.3,373.1 849.0,373.1 849.0,373.0 851.7,373.0 851.7,372.9 854.4,372.9 854.4,372.7 857.1,372.7 857.1,372.6 858.5,372.6 858.5,375.8 859.5,375.8 859.5,372.6 862.2,372.6 862.2,372.6 865.0,372.6 865.0,372.6 867.7,372.6 867.7,372.6 870.4,372.6 870.4,372.6 873.2,372.6 873.2,372.6 875.9,372.6 875.9,372.6 878.7,372.6 878.7,372.6 881.4,372.6 881.4,372.6 884.1,372.6 884.1,372.6 886.9,372.6 886.9,372.6 889.6,372.6 889.6,372.6 892.3,372.6 892.3,372.4 895.0,372.4 895.0,372.3 897.7,372.3 897.7,372.1 900.4,372.1 900.4,372.0 903.2,372.0 903.2,371.8 905.9,371.8 905.9,371.6 908.6,371.6 908.6,371.5 911.3,371.5 911.3,371.3 914.0,371.3 914.0,371.2 916.7,371.2 916.7,371.0 919.4,371.0 919.4,370.8 922.1,370.8 922.1,370.5 924.8,370.5 924.8,370.3 927.5,370.3 927.5,370.1 930.2,370.1 930.2,369.8 932.9,369.8 932.9,369.6 935.6,369.6 935.6,369.3 938.3,369.3 938.3,369.1 940.6,369.1 940.6,369.7 942.8,369.7 942.8,370.4 945.1,370.4 945.1,371.0 947.8,371.0 947.8,370.4 950.5,370.4 950.5,369.7 953.2,369.7 953.2,369.1 954.4,369.1 954.4,369.0" fill="none" stroke="#3a3ac4" stroke-width="1.4" stroke-linejoin="round"/>
<polyline points="36.5,483.2 37.7,483.2 37.7,483.1 38.8,483.1 38.8,482.0 40.0,482.0 40.0,481.5 41.5,481.5 41.5,481.1 43.0,481.1 43.0,480.0 44.5,480.0 44.5,479.1 46.0,479.1 46.0,478.9 47.5,478.9 47.5,477.3 49.0,477.3 49.0,476.5 50.2,476.5 50.2,475.6 51.5,475.6 51.5,474.7 52.7,474.7 52.7,474.4 53.8,474.4 53.8,474.6 54.9,474.6 54.9,473.4 56.0,473.4 56.0,473.3 57.5,473.3 57.5,472.3 58.9,472.3 58.9,470.6 60.4,470.6 60.4,470.0 61.9,470.0 61.9,470.4 63.4,470.4 63.4,470.6 64.9,470.6 64.9,471.1 66.4,471.1 66.4,471.7 67.8,471.7 67.8,472.0 69.3,472.0 69.3,473.3 70.4,473.3 70.4,472.5 71.6,472.5 71.6,473.0 72.7,473.0 72.7,472.2 73.8,472.2 73.8,471.3 74.9,471.3 74.9,470.4 76.0,470.4 76.0,470.0 77.1,470.0 77.1,469.3 78.2,469.3 78.2,469.0 79.3,469.0 79.3,468.9 80.4,468.9 80.4,468.0 81.6,468.0 81.6,467.2 82.7,467.2 82.7,467.2 84.2,467.2 84.2,466.5 85.6,466.5 85.6,465.1 87.1,465.1 87.1,464.4 88.6,464.4 88.6,463.6 90.1,463.6 90.1,463.9 91.6,463.9 91.6,463.3 92.7,463.3 92.7,463.0 93.8,463.0 93.8,463.4 94.9,463.4 94.9,463.9 96.0,463.9 96.0,463.7 97.1,463.7 97.1,462.3 98.2,462.3 98.2,462.2 99.1,462.2 99.1,460.5 99.9,460.5 99.9,458.9 101.2,458.9 101.2,459.1 102.5,459.1 102.5,458.9 103.8,458.9 103.8,458.3 104.9,458.3 104.9,457.4 106.0,457.4 106.0,457.1 107.1,457.1 107.1,456.7 108.2,456.7 108.2,455.1 109.4,455.1 109.4,453.0 111.0,453.0 111.0,455.0 112.0,455.0 112.0,458.6 113.1,458.6 113.1,462.5 114.0,462.5 114.0,461.3 115.0,461.3 115.0,459.0 116.2,459.0 116.2,457.3 117.5,457.3 117.5,456.9 118.8,456.9 118.8,455.0 119.6,455.0 119.6,454.7 120.4,454.7 120.4,454.4 121.6,454.4 121.6,451.3 122.7,451.3 122.7,448.9 123.8,448.9 123.8,448.1 124.9,448.1 124.9,447.0 126.0,447.0 126.0,446.7 127.2,446.7 127.2,445.8 128.4,445.8 128.4,444.2 129.6,444.2 129.6,443.8 130.8,443.8 130.8,442.2 132.3,442.2 132.3,441.8 133.8,441.8 133.8,440.9 135.2,440.9 135.2,440.2 136.7,440.2 136.7,440.0 138.2,440.0 138.2,439.8 139.7,439.8 139.7,438.9 141.2,438.9 141.2,439.3 142.7,439.3 142.7,438.5 144.2,438.5 144.2,437.7 145.6,437.7 145.6,437.8 147.1,437.8 147.1,437.4 148.6,437.4 148.6,437.0 150.0,437.0 150.0,438.5 151.5,438.5 151.5,437.2 153.0,437.2 153.0,436.7 154.4,436.7 154.4,435.2 155.9,435.2 155.9,434.5 157.4,434.5 157.4,433.3 158.9,433.3 158.9,432.9 160.4,432.9 160.4,432.2 161.8,432.2 161.8,431.8 163.3,431.8 163.3,431.0 164.8,431.0 164.8,431.1 166.3,431.1 166.3,430.5 167.8,430.5 167.8,431.2 169.2,431.2 169.2,430.4 170.7,430.4 170.7,430.4 172.2,430.4 172.2,429.1 173.7,429.1 173.7,426.9 175.2,426.9 175.2,425.9 176.7,425.9 176.7,425.0 178.1,425.0 178.1,423.8 179.6,423.8 179.6,423.0 181.1,423.0 181.1,423.4 182.6,423.4 182.6,423.6 184.0,423.6 184.0,423.8 185.5,423.8 185.5,424.5 187.0,424.5 187.0,425.2 188.5,425.2 188.5,425.0 190.0,425.0 190.0,425.1 191.5,425.1 191.5,426.0 193.0,426.0 193.0,425.9 194.4,425.9 194.4,423.4 195.9,423.4 195.9,421.5 197.4,421.5 197.4,420.6 198.9,420.6 198.9,420.5 200.4,420.5 200.4,419.6 201.9,419.6 201.9,418.5 203.4,418.5 203.4,419.2 204.9,419.2 204.9,419.3 206.3,419.3 206.3,418.7 207.8,418.7 207.8,419.3 209.2,419.3 209.2,417.9 210.7,417.9 210.7,417.0 212.2,417.0 212.2,415.7 213.7,415.7 213.7,415.7 215.2,415.7 215.2,414.8 216.7,414.8 216.7,413.8 218.1,413.8 218.1,412.2 219.6,412.2 219.6,411.1 221.1,411.1 221.1,410.2 222.6,410.2 222.6,409.6 224.1,409.6 224.1,414.8 225.6,414.8 225.6,414.0 227.0,414.0 227.0,413.1 228.5,413.1 228.5,411.9 230.0,411.9 230.0,412.3 231.4,412.3 231.4,413.8 232.9,413.8 232.9,413.9 234.4,413.9 234.4,414.8 235.9,414.8 235.9,413.2 237.4,413.2 237.4,411.0 238.9,411.0 238.9,409.6 240.4,409.6 240.4,408.2 241.9,408.2 241.9,408.2 243.3,408.2 243.3,407.1 244.8,407.1 244.8,405.9 246.3,405.9 246.3,405.4 247.8,405.4 247.8,403.9 249.3,403.9 249.3,403.7 250.8,403.7 250.8,403.6 252.2,403.6 252.2,404.3 253.7,404.3 253.7,405.2 255.2,405.2 255.2,405.6 256.7,405.6 256.7,406.7 257.8,406.7 257.8,406.7 258.9,406.7 258.9,407.0 260.0,407.0 260.0,407.4 261.2,407.4 261.2,407.6 262.5,407.6 262.5,408.6 263.7,408.6 263.7,409.6 265.2,409.6 265.2,409.0 266.6,409.0 266.6,407.7 268.1,407.7 268.1,407.4 269.4,407.4 269.4,407.8 270.6,407.8 270.6,407.5 271.9,407.5 271.9,407.4 272.6,407.4 272.6,413.3 273.8,413.3 273.8,413.6 275.1,413.6 275.1,413.0 276.3,413.0 276.3,413.3 277.8,413.3 277.8,411.1 279.1,411.1 279.1,410.6 280.4,410.6 280.4,410.6 281.7,410.6 281.7,409.8 283.0,409.8 283.0,409.6 284.4,409.6 284.4,405.9 285.9,405.9 285.9,402.4 287.4,402.4 287.4,400.0 288.9,400.0 288.9,398.9 290.4,398.9 290.4,397.0 291.5,397.0 291.5,399.9 292.6,399.9 292.6,402.2 294.1,402.2 294.1,402.7 295.6,402.7 295.6,403.7 297.1,403.7 297.1,405.0 298.5,405.0 298.5,407.4 300.0,407.4 300.0,403.8 301.5,403.8 301.5,399.3 302.9,399.3 302.9,399.0 304.4,399.0 304.4,398.5 305.9,398.5 305.9,397.2 307.4,397.2 307.4,397.0 308.9,397.0 308.9,400.7 310.1,400.7 310.1,400.7 311.4,400.7 311.4,400.8 312.6,400.8 312.6,401.5 314.1,401.5 314.1,397.4 315.6,397.4 315.6,392.6 316.8,392.6 316.8,392.3 318.1,392.3 318.1,393.1 319.3,393.1 319.3,392.6 320.8,392.6 320.8,392.9 322.2,392.9 322.2,392.1 323.7,392.1 323.7,392.6 325.2,392.6 325.2,391.3 326.6,391.3 326.6,389.5 328.1,389.5 328.1,388.1 329.6,388.1 329.6,387.9 331.1,387.9 331.1,387.6 332.6,387.6 332.6,386.7 333.8,386.7 333.8,385.7 335.1,385.7 335.1,384.7 336.3,384.7 336.3,384.4 337.8,384.4 337.8,388.9 339.0,388.9 339.0,388.4 340.3,388.4 340.3,386.8 341.5,386.8 341.5,385.9 343.0,385.9 343.0,380.0 344.4,380.0 344.4,381.6 345.9,381.6 345.9,382.2 347.4,382.2 347.4,381.7 348.9,381.7 348.9,381.0 350.4,381.0 350.4,380.0 351.9,380.0 351.9,380.2 353.3,380.2 353.3,379.7 354.8,379.7 354.8,379.3 356.3,379.3 356.3,378.1 357.8,378.1 357.8,377.0 359.3,377.0 359.3,368.1 360.5,368.1 360.5,367.8 361.8,367.8 361.8,368.9 363.0,368.9 363.0,368.9 364.1,368.9 364.1,365.5 365.2,365.5 365.2,362.2 366.6,362.2 366.6,367.4 368.1,367.4 368.1,372.6 369.1,372.6 369.1,370.7 370.0,370.7 370.0,367.8 371.2,367.8 371.2,365.5 372.5,365.5 372.5,364.4 373.7,364.4 373.7,362.2 375.2,362.2 375.2,360.4 376.8,360.4 376.8,360.0 378.3,360.0 378.3,358.5 379.5,358.5 379.5,360.1 380.8,360.1 380.8,360.7 382.0,360.7 382.0,362.2 383.3,362.2 383.3,362.1 384.6,362.1 384.6,362.4 385.9,362.4 385.9,361.8 387.2,361.8 387.2,361.5 388.5,361.5 388.5,361.3 389.9,361.3 389.9,361.9 391.3,361.9 391.3,362.6 392.7,362.6 392.7,363.9 394.1,363.9 394.1,365.0 395.5,365.0 395.5,364.9 396.9,364.9 396.9,364.6 398.2,364.6 398.2,364.8 399.6,364.8 399.6,365.0 400.8,365.0 400.8,363.0 402.1,363.0 402.1,362.2 403.3,362.2 403.3,360.4 404.5,360.4 404.5,358.1 405.8,358.1 405.8,355.2 407.0,355.2 407.0,353.0 408.2,353.0 408.2,352.1 409.5,352.1 409.5,351.8 410.7,351.8 410.7,351.1 411.9,351.1 411.9,352.6 413.2,352.6 413.2,354.7 414.4,354.7 414.4,355.7 415.6,355.7 415.6,354.6 416.9,354.6 416.9,353.7 418.1,353.7 418.1,353.0 419.4,353.0 419.4,350.4 420.6,350.4 420.6,346.4 421.9,346.4 421.9,343.7 423.1,343.7 423.1,343.8 424.4,343.8 424.4,343.5 425.6,343.5 425.6,343.7 426.8,343.7 426.8,344.7 428.1,344.7 428.1,345.0 429.3,345.0 429.3,345.6 430.2,345.6 430.2,343.1 431.1,343.1 431.1,340.0 432.5,340.0 432.5,339.4 433.9,339.4 433.9,339.7 435.3,339.7 435.3,339.4 436.7,339.4 436.7,339.1 438.2,339.1 438.2,339.4 439.7,339.4 439.7,340.1 441.1,340.1 441.1,340.6 442.6,340.6 442.6,340.1 444.1,340.1 444.1,340.9 445.6,340.9 445.6,340.5 447.1,340.5 447.1,340.4 448.5,340.4 448.5,340.0 450.0,340.0 450.0,339.7 451.5,339.7 451.5,340.0 452.9,340.0 452.9,340.1 454.3,340.1 454.3,340.3 455.6,340.3 455.6,341.2 457.0,341.2 457.0,341.2 458.4,341.2 458.4,341.1 459.8,341.1 459.8,341.9 460.8,341.9 460.8,339.3 461.7,339.3 461.7,337.2 463.1,337.2 463.1,337.0 464.5,337.0 464.5,336.7 465.9,336.7 465.9,336.4 467.2,336.4 467.2,336.1 468.6,336.1 468.6,335.9 470.0,335.9 470.0,336.3 470.9,336.3 470.9,329.8 472.2,329.8 472.2,329.3 473.5,329.3 473.5,327.9 474.8,327.9 474.8,326.0 476.1,326.0 476.1,325.7 477.4,325.7 477.4,324.3 478.9,324.3 478.9,325.1 480.4,325.1 480.4,324.7 481.8,324.7 481.8,324.4 483.3,324.4 483.3,325.0 484.8,325.0 484.8,325.2 486.4,325.2 486.4,324.8 488.0,324.8 488.0,324.3 489.6,324.3 489.6,324.4 491.1,324.4 491.1,323.5 492.7,323.5 492.7,324.3 494.3,324.3 494.3,323.7 495.9,323.7 495.9,323.3 496.9,323.3 496.9,326.3 497.8,326.3 497.8,328.9 498.7,328.9 498.7,323.9 499.6,323.9 499.6,317.8 501.0,317.8 501.0,317.1 502.4,317.1 502.4,315.7 503.8,315.7 503.8,314.7 505.2,314.7 505.2,314.1 506.6,314.1 506.6,314.1 507.9,314.1 507.9,314.4 509.3,314.4 509.3,315.8 510.7,315.8 510.7,315.9 512.2,315.9 512.2,316.0 513.8,316.0 513.8,315.1 515.4,315.1 515.4,314.6 516.9,314.6 516.9,314.9 518.5,314.9 518.5,314.8 520.0,314.8 520.0,314.1 521.2,314.1 521.2,315.0 522.5,315.0 522.5,314.6 523.8,314.6 523.8,315.7 525.0,315.7 525.0,315.8 526.1,315.8 526.1,317.6 527.2,317.6 527.2,318.9 528.3,318.9 528.3,320.0 529.7,320.0 529.7,318.7 531.1,318.7 531.1,317.4 532.5,317.4 532.5,316.7 533.9,316.7 533.9,316.8 535.3,316.8 535.3,315.9 536.7,315.9 536.7,315.8 538.2,315.8 538.2,315.9 539.6,315.9 539.6,316.3 541.0,316.3 541.0,316.3 542.5,316.3 542.5,316.7 543.4,316.7 543.4,313.7 544.2,313.7 544.2,310.0 545.8,310.0 545.8,310.0 546.6,310.0 546.6,313.4 547.5,313.4 547.5,317.5 548.8,317.5 548.8,317.1 550.2,317.1 550.2,317.9 551.5,317.9 551.5,318.1 552.9,318.1 552.9,318.5 554.2,318.5 554.2,318.3 555.5,318.3 555.5,317.3 556.7,317.3 556.7,315.8 558.0,315.8 558.0,312.5 559.2,312.5 559.2,308.3 560.3,308.3 560.3,308.6 561.4,308.6 561.4,307.8 562.5,307.8 562.5,307.5 563.6,307.5 563.6,306.4 564.7,306.4 564.7,304.9 565.8,304.9 565.8,304.2 566.6,304.2 566.6,306.0 567.5,306.0 567.5,308.3 569.0,308.3 569.0,307.1 570.4,307.1 570.4,305.3 571.8,305.3 571.8,304.8 573.3,304.8 573.3,303.3 574.5,303.3 574.5,303.5 575.8,303.5 575.8,304.5 577.0,304.5 577.0,305.7 578.3,305.7 578.3,305.8 579.1,305.8 579.1,308.3 580.0,308.3 580.0,311.7 581.4,311.7 581.4,311.1 582.8,311.1 582.8,311.6 584.2,311.6 584.2,311.7 585.3,311.7 585.3,310.5 586.4,310.5 586.4,310.3 587.5,310.3 587.5,309.2 588.8,309.2 588.8,310.7 590.0,310.7 590.0,313.3 591.2,313.3 591.2,313.3 592.5,313.3 592.5,312.9 593.8,312.9 593.8,312.4 595.0,312.4 595.0,311.7 596.2,311.7 596.2,308.7 597.5,308.7 597.5,305.8 599.0,305.8 599.0,305.1 600.4,305.1 600.4,305.2 601.8,305.2 601.8,304.6 603.3,304.6 603.3,304.2 604.5,304.2 604.5,303.7 605.8,303.7 605.8,303.3 606.7,303.3 606.7,309.2 608.3,309.2 608.3,299.2 609.6,299.2 609.6,298.5 611.0,298.5 611.0,298.1 612.3,298.1 612.3,297.9 613.7,297.9 613.7,297.6 615.0,297.6 615.0,296.7 616.4,296.7 616.4,295.2 617.8,295.2 617.8,292.4 619.2,292.4 619.2,290.8 620.7,290.8 620.7,290.8 622.1,290.8 622.1,291.2 623.5,291.2 623.5,291.6 625.0,291.6 625.0,291.7 626.4,291.7 626.4,290.4 627.8,290.4 627.8,289.1 629.2,289.1 629.2,288.3 630.7,288.3 630.7,287.8 632.1,287.8 632.1,288.1 633.5,288.1 633.5,288.3 635.0,288.3 635.0,288.3 636.2,288.3 636.2,288.7 637.5,288.7 637.5,288.4 638.8,288.4 638.8,288.1 640.0,288.1 640.0,287.5 641.2,287.5 641.2,290.2 642.5,290.2 642.5,291.7 643.9,291.7 643.9,290.9 645.3,290.9 645.3,289.0 646.7,289.0 646.7,287.5 648.0,287.5 648.0,287.9 649.2,287.9 649.2,287.0 650.5,287.0 650.5,287.7 651.7,287.7 651.7,287.5 653.0,287.5 653.0,287.0 654.2,287.0 654.2,286.0 655.5,286.0 655.5,285.7 656.7,285.7 656.7,285.0 657.8,285.0 657.8,286.6 658.9,286.6 658.9,287.2 660.0,287.2 660.0,288.3 661.4,288.3 661.4,289.3 662.8,289.3 662.8,289.7 664.2,289.7 664.2,290.8 665.7,290.8 665.7,289.8 667.1,289.8 667.1,289.6 668.5,289.6 668.5,287.8 670.0,287.8 670.0,287.5 671.3,287.5 671.3,286.1 672.7,286.1 672.7,285.7 674.0,285.7 674.0,284.4 675.4,284.4 675.4,283.0 676.7,283.0 676.7,282.5 678.0,282.5 678.0,282.7 679.2,282.7 679.2,282.3 680.5,282.3 680.5,282.6 681.7,282.6 681.7,282.5 682.5,282.5 682.5,279.2 683.8,279.2 683.8,279.3 685.0,279.3 685.0,279.6 686.2,279.6 686.2,279.9 687.5,279.9 687.5,280.0 688.8,280.0 688.8,278.6 690.0,278.6 690.0,277.5 691.3,277.5 691.3,277.2 692.7,277.2 692.7,277.4 694.0,277.4 694.0,278.4 695.4,278.4 695.4,278.2 696.7,278.2 696.7,278.3 697.8,278.3 697.8,277.3 698.9,277.3 698.9,277.7 700.0,277.7 700.0,276.7 701.1,276.7 701.1,276.3 702.2,276.3 702.2,275.9 703.3,275.9 703.3,276.3 704.4,276.3 704.4,276.7 705.6,276.7 705.6,276.8 706.7,276.8 706.7,277.5 708.0,277.5 708.0,277.1 709.2,277.1 709.2,276.7 710.5,276.7 710.5,275.9 711.7,275.9 711.7,275.8 713.3,275.8 713.3,270.0 714.5,270.0 714.5,269.7 715.8,269.7 715.8,269.2 716.6,269.2 716.6,270.4 717.5,270.4 717.5,272.5 718.6,272.5 718.6,270.8 719.7,270.8 719.7,269.3 720.8,269.3 720.8,267.5 722.0,267.5 722.0,269.9 723.3,269.9 723.3,273.3 724.1,273.3 724.1,274.4 725.0,274.4 725.0,275.8 726.2,275.8 726.2,274.5 727.5,274.5 727.5,274.1 728.8,274.1 728.8,273.8 730.0,273.8 730.0,272.5 731.1,272.5 731.1,273.1 732.2,273.1 732.2,273.9 733.3,273.9 733.3,274.2 734.7,274.2 734.7,274.5 736.1,274.5 736.1,273.7 737.5,273.7 737.5,274.2 738.9,274.2 738.9,273.7 740.3,273.7 740.3,272.2 741.7,272.2 741.7,270.8 743.0,270.8 743.0,270.2 744.3,270.2 744.3,270.9 745.7,270.9 745.7,270.2 747.0,270.2 747.0,269.8 748.3,269.8 748.3,270.0 749.4,270.0 749.4,270.0 750.6,270.0 750.6,268.9 751.7,268.9 751.7,268.3 752.8,268.3 752.8,267.8 753.9,267.8 753.9,266.2 755.0,266.2 755.0,265.8 756.2,265.8 756.2,268.6 757.5,268.6 757.5,270.8 758.9,270.8 758.9,269.7 760.3,269.7 760.3,269.4 761.7,269.4 761.7,269.2 762.8,269.2 762.8,267.9 763.9,267.9 763.9,266.4 765.0,266.4 765.0,265.8 766.3,265.8 766.3,266.1 767.7,266.1 767.7,265.8 769.0,265.8 769.0,266.1 770.4,266.1 770.4,266.8 771.7,266.8 771.7,266.7 773.0,266.7 773.0,265.8 774.2,265.8 774.2,265.5 775.5,265.5 775.5,264.3 776.7,264.3 776.7,263.3 777.8,263.3 777.8,262.6 778.9,262.6 778.9,261.2 780.0,261.2 780.0,260.0 781.3,260.0 781.3,260.0 782.7,260.0 782.7,259.4 784.0,259.4 784.0,258.1 785.4,258.1 785.4,258.3 786.7,258.3 786.7,257.5 788.0,257.5 788.0,257.3 789.3,257.3 789.3,257.8 790.7,257.8 790.7,257.7 792.0,257.7 792.0,257.9 793.3,257.9 793.3,257.5 794.7,257.5 794.7,257.0 796.1,257.0 796.1,257.3 797.5,257.3 797.5,257.5 798.9,257.5 798.9,255.3 800.3,255.3 800.3,253.0 801.7,253.0 801.7,250.0 803.0,250.0 803.0,249.9 804.3,249.9 804.3,248.8 805.7,248.8 805.7,249.1 807.0,249.1 807.0,248.2 808.3,248.2 808.3,248.3 809.1,248.3 809.1,249.2 810.0,249.2 810.0,250.0 811.1,250.0 811.1,250.1 812.2,250.1 812.2,249.0 813.3,249.0 813.3,249.2 814.1,249.2 814.1,247.6 815.0,247.6 815.0,245.0 816.2,245.0 816.2,245.2 817.5,245.2 817.5,245.0 818.3,245.0 818.3,248.3 819.5,248.3 819.5,246.8 820.8,246.8 820.8,245.8 821.9,245.8 821.9,246.0 823.1,246.0 823.1,246.9 824.2,246.9 824.2,247.5 825.5,247.5 825.5,245.0 826.7,245.0 826.7,241.7 828.1,241.7 828.1,241.5 829.4,241.5 829.4,240.6 830.8,240.6 830.8,240.8 831.7,240.8 831.7,237.5 832.9,237.5 832.9,237.2 834.2,237.2 834.2,237.5 835.4,237.5 835.4,238.2 836.8,238.2 836.8,238.6 838.1,238.6 838.1,237.8 839.5,237.8 839.5,238.2 840.8,238.2 840.8,235.5 842.2,235.5 842.2,235.1 843.5,235.1 843.5,234.4 844.9,234.4 844.9,234.2 846.2,234.2 846.2,235.4 847.6,235.4 847.6,236.2 849.0,236.2 849.0,236.3 850.3,236.3 850.3,236.2 851.7,236.2 851.7,236.9 853.0,236.9 853.0,235.3 854.4,235.3 854.4,232.8 855.8,232.8 855.8,233.8 857.1,233.8 857.1,234.8 858.1,234.8 858.1,234.0 859.1,234.0 859.1,232.8 860.2,232.8 860.2,233.4 861.4,233.4 861.4,233.8 862.5,233.8 862.5,233.5 863.9,233.5 863.9,233.1 865.2,233.1 865.2,233.7 866.5,233.7 866.5,233.6 867.9,233.6 867.9,234.2 869.3,234.2 869.3,234.4 870.6,234.4 870.6,235.0 872.0,235.0 872.0,234.8 873.4,234.8 873.4,233.8 874.7,233.8 874.7,232.1 876.0,232.1 876.0,231.1 877.4,231.1 877.4,230.9 878.7,230.9 878.7,230.8 879.8,230.8 879.8,230.0 881.0,230.0 881.0,228.7 882.1,228.7 882.1,227.4 883.2,227.4 883.2,225.2 884.2,225.2 884.2,223.3 885.5,223.3 885.5,221.3 886.9,221.3 886.9,219.3 888.2,219.3 888.2,217.2 889.6,217.2 889.6,215.9 890.3,215.9 890.3,208.4 891.6,208.4 891.6,208.8 893.0,208.8 893.0,208.3 894.3,208.3 894.3,208.4 895.3,208.4 895.3,206.1 896.4,206.1 896.4,203.0 897.8,203.0 897.8,202.8 899.1,202.8 899.1,202.3 900.5,202.3 900.5,202.8 901.8,202.8 901.8,204.4 903.1,204.4 903.1,204.2 904.5,204.2 904.5,204.1 905.8,204.1 905.8,204.4 907.1,204.4 907.1,204.9 908.5,204.9 908.5,204.5 909.9,204.5 909.9,203.9 911.2,203.9 911.2,204.4 912.6,204.4 912.6,203.3 913.9,203.3 913.9,202.8 915.3,202.8 915.3,202.3 916.4,202.3 916.4,201.6 917.6,201.6 917.6,201.1 918.7,201.1 918.7,200.3 920.0,200.3 920.0,196.2 921.6,196.2 921.6,196.1 923.2,196.1 923.2,196.0 924.8,196.0 924.8,196.2 926.1,196.2 926.1,195.6 927.5,195.6 927.5,196.3 928.9,196.3 928.9,196.0 930.2,196.0 930.2,196.2 931.5,196.2 931.5,195.6 932.9,195.6 932.9,196.2 934.3,196.2 934.3,199.0 935.6,199.0 935.6,196.9 937.0,196.9 937.0,194.9 938.4,194.9 938.4,195.1 939.7,195.1 939.7,194.2 940.7,194.2 940.7,194.0 941.7,194.0 941.7,194.9 942.4,194.9 942.4,197.6 943.4,197.6 943.4,196.5 944.4,196.5 944.4,196.2 945.5,196.2 945.5,198.1 946.5,198.1 946.5,199.6 947.9,199.6 947.9,200.4 949.2,200.4 949.2,201.7 950.3,201.7 950.3,201.0 951.4,201.0 951.4,200.8 952.5,200.8 952.5,200.3 953.2,200.3 953.2,206.4 954.4,206.4 954.4,205.0" fill="none" stroke="#f5aeae" stroke-width="1.15" stroke-linejoin="round"/>
<polyline points="36.5,483.2 37.4,483.2 37.4,481.4 38.2,481.4 38.2,480.6 39.4,480.6 39.4,479.5 40.7,479.5 40.7,478.3 41.9,478.3 41.9,477.0 43.1,477.0 43.1,476.4 44.3,476.4 44.3,473.9 45.1,473.9 45.1,472.4 46.0,472.4 46.0,468.9 47.1,468.9 47.1,467.7 48.2,467.7 48.2,468.3 49.3,468.3 49.3,469.3 50.4,469.3 50.4,470.0 51.5,470.0 51.5,468.6 52.7,468.6 52.7,466.1 53.8,466.1 53.8,471.1 54.6,471.1 54.6,470.4 55.4,470.4 55.4,468.3 56.2,468.3 56.2,470.8 57.1,470.8 57.1,472.2 58.2,472.2 58.2,471.1 59.3,471.1 59.3,469.4 60.2,469.4 60.2,468.2 61.2,468.2 61.2,466.2 62.1,466.2 62.1,465.0 63.0,465.0 63.0,463.5 63.8,463.5 63.8,462.8 64.9,462.8 64.9,462.0 66.0,462.0 66.0,460.0 67.1,460.0 67.1,459.6 68.2,459.6 68.2,457.8 69.3,457.8 69.3,459.8 70.4,459.8 70.4,460.0 71.5,460.0 71.5,460.4 72.7,460.4 72.7,459.6 73.8,459.6 73.8,460.0 74.9,460.0 74.9,460.7 76.0,460.7 76.0,460.9 77.1,460.9 77.1,460.6 77.9,460.6 77.9,460.0 78.8,460.0 78.8,459.4 79.3,459.4 79.3,466.7 80.4,466.7 80.4,467.5 81.6,467.5 81.6,467.8 82.7,467.8 82.7,466.1 83.8,466.1 83.8,465.0 84.9,465.0 84.9,465.4 86.0,465.4 86.0,465.6 86.6,465.6 86.6,472.8 87.4,472.8 87.4,469.6 88.2,469.6 88.2,466.7 89.3,466.7 89.3,466.4 90.4,466.4 90.4,467.8 91.6,467.8 91.6,468.6 92.7,468.6 92.7,470.0 93.8,470.0 93.8,469.6 94.9,469.6 94.9,471.0 96.0,471.0 96.0,470.0 97.1,470.0 97.1,471.1 98.2,471.1 98.2,472.2 99.1,472.2 99.1,466.4 99.9,466.4 99.9,461.1 101.0,461.1 101.0,472.2 101.9,472.2 101.9,470.4 102.9,470.4 102.9,469.1 103.8,469.1 103.8,468.3 104.9,468.3 104.9,468.3 106.0,468.3 106.0,468.9 106.8,468.9 106.8,469.8 107.7,469.8 107.7,472.2 108.5,472.2 108.5,469.0 109.3,469.0 109.3,467.8 110.4,467.8 110.4,473.3 111.6,473.3 111.6,468.3 112.1,468.3 112.1,476.7 112.9,476.7 112.9,481.3 113.8,481.3 113.8,484.4 114.5,484.4 114.5,484.7 115.2,484.7 115.2,485.2 116.2,485.2 116.2,484.3 117.3,484.3 117.3,483.6 118.3,483.6 118.3,483.2 119.3,483.2 119.3,482.6 120.3,482.6 120.3,480.9 121.4,480.9 121.4,480.0 122.4,480.0 122.4,484.1 123.4,484.1 123.4,489.6 124.2,489.6 124.2,485.8 124.9,485.8 124.9,483.7 126.1,483.7 126.1,481.1 127.3,481.1 127.3,479.2 128.6,479.2 128.6,474.1 129.9,474.1 129.9,472.7 131.2,472.7 131.2,472.1 132.1,472.1 132.1,473.0 132.9,473.0 132.9,473.1 133.8,473.1 133.8,473.4 135.1,473.4 135.1,473.6 136.4,473.6 136.4,472.1 137.7,472.1 137.7,471.5 139.0,471.5 139.0,471.5 139.7,471.5 139.7,475.9 140.3,475.9 140.3,478.6 141.5,478.6 141.5,474.5 142.7,474.5 142.7,475.5 143.4,475.5 143.4,474.4 144.1,474.4 144.1,473.0 144.8,473.0 144.8,471.6 145.6,471.6 145.6,471.8 146.7,471.8 146.7,473.5 147.6,473.5 147.6,471.5 148.6,471.5 148.6,470.8 149.3,470.8 149.3,471.6 150.0,471.6 150.0,472.0 150.8,472.0 150.8,468.5 151.6,468.5 151.6,463.0 152.3,463.0 152.3,461.7 153.0,461.7 153.0,461.0 153.8,461.0 153.8,460.3 154.5,460.3 154.5,458.5 155.3,458.5 155.3,455.0 156.5,455.0 156.5,457.0 157.7,457.0 157.7,459.2 158.7,459.2 158.7,460.9 159.7,460.9 159.7,461.1 160.3,461.1 160.3,459.6 161.0,459.6 161.0,459.8 161.7,459.8 161.7,456.2 162.3,456.2 162.3,452.7 163.6,452.7 163.6,444.3 164.6,444.3 164.6,444.1 165.5,444.1 165.5,442.3 166.5,442.3 166.5,442.5 167.5,442.5 167.5,443.6 168.8,443.6 168.8,442.8 170.1,442.8 170.1,443.0 171.1,443.0 171.1,444.6 172.0,444.6 172.0,448.1 172.9,448.1 172.9,450.4 173.9,450.4 173.9,454.0 174.9,454.0 174.9,451.9 175.9,451.9 175.9,450.7 176.9,450.7 176.9,449.8 177.8,449.8 177.8,448.1 179.1,448.1 179.1,445.6 180.4,445.6 180.4,444.3 181.7,444.3 181.7,443.4 183.0,443.4 183.0,443.0 183.7,443.0 183.7,438.5 184.3,438.5 184.3,435.2 185.6,435.2 185.6,435.2 186.3,435.2 186.3,444.3 187.4,444.3 187.4,444.1 188.4,444.1 188.4,444.2 189.5,444.2 189.5,443.0 190.8,443.0 190.8,442.3 192.1,442.3 192.1,441.0 193.4,441.0 193.4,438.8 194.7,438.8 194.7,437.8 195.6,437.8 195.6,442.1 196.6,442.1 196.6,445.5 197.2,445.5 197.2,448.7 197.9,448.7 197.9,450.1 198.9,450.1 198.9,444.5 199.9,444.5 199.9,438.4 201.2,438.4 201.2,439.9 202.5,439.9 202.5,443.0 203.8,443.0 203.8,444.9 205.0,444.9 205.0,445.5 206.0,445.5 206.0,448.2 207.0,448.2 207.0,449.4 207.6,449.4 207.6,455.9 208.2,455.9 208.2,462.1 208.9,462.1 208.9,468.9 210.2,468.9 210.2,470.1 211.5,470.1 211.5,472.8 212.8,472.8 212.8,471.5 214.1,471.5 214.1,471.5 215.1,471.5 215.1,472.9 216.1,472.9 216.1,474.1 216.7,474.1 216.7,455.9 217.6,455.9 217.6,455.4 218.4,455.4 218.4,453.6 219.3,453.6 219.3,452.0 220.6,452.0 220.6,445.7 221.9,445.7 221.9,437.8 223.2,437.8 223.2,431.9 224.1,431.9 224.1,429.9 225.1,429.9 225.1,429.0 225.8,429.0 225.8,433.1 226.4,433.1 226.4,437.8 227.4,437.8 227.4,439.2 228.4,439.2 228.4,439.7 229.7,439.7 229.7,452.0 230.6,452.0 230.6,449.7 231.6,449.7 231.6,446.8 232.6,446.8 232.6,449.2 233.6,449.2 233.6,452.0 234.8,452.0 234.8,449.8 236.1,449.8 236.1,446.8 237.4,446.8 237.4,444.6 238.7,444.6 238.7,443.0 239.3,443.0 239.3,438.2 240.0,438.2 240.0,435.2 241.3,435.2 241.3,435.3 242.6,435.3 242.6,435.8 243.4,435.8 243.4,440.7 244.2,440.7 244.2,447.5 245.4,447.5 245.4,444.0 246.7,444.0 246.7,440.0 247.9,440.0 247.9,436.3 249.2,436.3 249.2,433.3 250.0,433.3 250.0,436.2 250.8,436.2 250.8,439.2 252.1,439.2 252.1,439.8 253.3,439.8 253.3,440.0 254.6,440.0 254.6,442.9 255.8,442.9 255.8,446.7 257.1,446.7 257.1,447.4 258.3,447.4 258.3,448.3 259.6,448.3 259.6,445.7 260.8,445.7 260.8,445.0 261.9,445.0 261.9,445.0 263.1,445.0 263.1,443.5 264.2,443.5 264.2,442.5 265.3,442.5 265.3,443.7 266.4,443.7 266.4,442.1 267.5,442.1 267.5,443.3 268.3,443.3 268.3,448.3 269.6,448.3 269.6,448.1 270.8,448.1 270.8,447.5 271.6,447.5 271.6,450.8 272.5,450.8 272.5,453.3 273.3,453.3 273.3,466.7 274.6,466.7 274.6,463.0 275.8,463.0 275.8,460.0 276.6,460.0 276.6,462.1 277.5,462.1 277.5,465.8 278.4,465.8 278.4,463.1 279.2,463.1 279.2,461.7 280.0,461.7 280.0,456.0 280.8,456.0 280.8,451.7 282.1,451.7 282.1,450.1 283.3,450.1 283.3,447.5 284.1,447.5 284.1,446.3 285.0,446.3 285.0,446.7 286.2,446.7 286.2,449.0 287.5,449.0 287.5,450.0 288.4,450.0 288.4,453.2 289.2,453.2 289.2,456.7 290.0,456.7 290.0,453.8 290.8,453.8 290.8,450.8 292.1,450.8 292.1,453.9 293.3,453.9 293.3,456.7 294.4,456.7 294.4,456.2 295.6,456.2 295.6,455.9 296.7,455.9 296.7,455.0 297.9,455.0 297.9,454.0 299.2,454.0 299.2,452.5 300.0,452.5 300.0,448.4 300.8,448.4 300.8,445.0 301.9,445.0 301.9,443.8 303.1,443.8 303.1,441.2 304.2,441.2 304.2,440.0 305.3,440.0 305.3,439.9 306.4,439.9 306.4,439.4 307.5,439.4 307.5,438.3 308.8,438.3 308.8,438.5 310.0,438.5 310.0,437.5 311.2,437.5 311.2,436.3 312.5,436.3 312.5,435.8 313.4,435.8 313.4,438.0 314.2,438.0 314.2,439.2 315.0,439.2 315.0,433.9 315.8,433.9 315.8,426.7 317.1,426.7 317.1,427.9 318.3,427.9 318.3,429.2 319.4,429.2 319.4,428.8 320.6,428.8 320.6,429.2 321.7,429.2 321.7,429.2 322.8,429.2 322.8,430.3 323.9,430.3 323.9,429.0 325.0,429.0 325.0,430.0 325.9,430.0 325.9,428.2 326.7,428.2 326.7,428.3 327.9,428.3 327.9,425.0 329.2,425.0 329.2,421.7 330.0,421.7 330.0,419.5 330.8,419.5 330.8,416.7 332.1,416.7 332.1,418.0 333.3,418.0 333.3,418.3 334.4,418.3 334.4,417.5 335.6,417.5 335.6,418.2 336.7,418.2 336.7,416.7 337.8,416.7 337.8,415.6 338.9,415.6 338.9,416.1 340.0,416.1 340.0,415.0 340.9,415.0 340.9,415.4 341.7,415.4 341.7,417.5 342.9,417.5 342.9,412.8 344.2,412.8 344.2,410.0 345.0,410.0 345.0,412.2 345.8,412.2 345.8,415.8 346.9,415.8 346.9,413.3 348.1,413.3 348.1,412.5 349.2,412.5 349.2,410.8 350.4,410.8 350.4,410.1 351.7,410.1 351.7,409.2 352.9,409.2 352.9,409.8 354.2,409.8 354.2,411.7 355.4,411.7 355.4,410.1 356.7,410.1 356.7,406.7 357.9,406.7 357.9,402.2 359.2,402.2 359.2,398.3 360.4,398.3 360.4,398.8 361.7,398.8 361.7,400.8 362.9,400.8 362.9,398.1 364.2,398.1 364.2,396.7 365.4,396.7 365.4,400.1 366.7,400.1 366.7,402.5 367.5,402.5 367.5,402.1 368.3,402.1 368.3,400.0 369.1,400.0 369.1,394.7 370.0,394.7 370.0,390.8 370.9,390.8 370.9,388.7 371.7,388.7 371.7,389.1 372.6,389.1 372.6,387.4 373.7,387.4 373.7,384.4 374.9,384.4 374.9,382.1 376.2,382.1 376.2,381.7 377.4,381.7 377.4,378.9 378.6,378.9 378.6,376.4 379.9,376.4 379.9,374.2 381.1,374.2 381.1,371.5 382.3,371.5 382.3,370.9 383.6,370.9 383.6,371.5 384.8,371.5 384.8,370.6 386.0,370.6 386.0,369.0 387.3,369.0 387.3,367.1 388.5,367.1 388.5,365.9 389.4,365.9 389.4,369.2 390.4,369.2 390.4,370.0 391.3,370.0 391.3,373.3 392.2,373.3 392.2,372.5 393.2,372.5 393.2,370.0 394.1,370.0 394.1,369.6 395.0,369.6 395.0,372.4 396.0,372.4 396.0,374.3 396.9,374.3 396.9,377.0 397.8,377.0 397.8,380.2 398.7,380.2 398.7,381.1 399.6,381.1 399.6,384.4 400.8,384.4 400.8,382.7 402.1,382.7 402.1,380.6 403.3,380.6 403.3,378.9 404.2,378.9 404.2,374.2 405.2,374.2 405.2,367.8 406.4,367.8 406.4,367.5 407.7,367.5 407.7,365.6 408.9,365.6 408.9,364.1 410.1,364.1 410.1,361.1 411.4,361.1 411.4,358.7 412.6,358.7 412.6,356.7 413.8,356.7 413.8,355.6 415.1,355.6 415.1,355.3 416.3,355.3 416.3,354.8 417.2,354.8 417.2,357.5 418.1,357.5 418.1,361.3 419.0,361.3 419.0,357.9 420.0,357.9 420.0,356.3 420.9,356.3 420.9,353.0 421.8,353.0 421.8,352.1 422.8,352.1 422.8,350.1 423.7,350.1 423.7,349.3 424.9,349.3 424.9,350.3 426.2,350.3 426.2,348.7 427.4,348.7 427.4,349.3 428.6,349.3 428.6,347.9 429.9,347.9 429.9,345.5 431.1,345.5 431.1,344.6 432.0,344.6 432.0,343.2 433.0,343.2 433.0,341.0 433.9,341.0 433.9,338.1 434.8,338.1 434.8,336.4 435.8,336.4 435.8,336.1 436.7,336.1 436.7,334.4 437.6,334.4 437.6,335.7 438.5,335.7 438.5,335.2 439.4,335.2 439.4,336.3 440.4,336.3 440.4,325.2 441.3,325.2 441.3,320.2 442.2,320.2 442.2,315.9 443.4,315.9 443.4,315.6 444.7,315.6 444.7,316.1 445.9,316.1 445.9,315.0 446.9,315.0 446.9,315.7 447.8,315.7 447.8,317.8 449.0,317.8 449.0,316.3 450.3,316.3 450.3,314.3 451.5,314.3 451.5,312.2 452.6,312.2 452.6,311.4 453.7,311.4 453.7,310.9 454.8,310.9 454.8,310.7 455.9,310.7 455.9,308.7 457.0,308.7 457.0,308.5 458.2,308.5 458.2,310.8 459.5,310.8 459.5,311.3 460.7,311.3 460.7,313.1 461.9,313.1 461.9,312.4 463.2,312.4 463.2,311.4 464.4,311.4 464.4,309.4 465.5,309.4 465.5,308.6 466.6,308.6 466.6,309.8 467.8,309.8 467.8,309.8 468.9,309.8 468.9,308.3 470.0,308.3 470.0,308.5 470.9,308.5 470.9,305.7 471.9,305.7 471.9,304.8 473.1,304.8 473.1,303.7 474.4,303.7 474.4,305.1 475.6,305.1 475.6,303.9 476.8,303.9 476.8,301.7 478.1,301.7 478.1,302.3 479.3,302.3 479.3,300.2 480.5,300.2 480.5,298.6 481.8,298.6 481.8,298.8 483.0,298.8 483.0,297.4 484.2,297.4 484.2,295.1 485.5,295.1 485.5,293.7 486.7,293.7 486.7,292.8 487.9,292.8 487.9,292.5 489.2,292.5 489.2,290.7 490.4,290.7 490.4,290.9 491.5,290.9 491.5,290.8 492.6,290.8 492.6,292.3 493.7,292.3 493.7,291.7 494.6,291.7 494.6,291.2 495.6,291.2 495.6,289.8 496.5,289.8 496.5,297.2 497.4,297.2 497.4,297.5 498.3,297.5 498.3,296.3 499.3,296.3 499.3,279.6 500.2,279.6 500.2,278.1 501.1,278.1 501.1,273.7 502.0,273.7 502.0,272.2 502.9,272.2 502.9,271.1 503.9,271.1 503.9,271.6 504.8,271.6 504.8,270.4 506.0,270.4 506.0,271.4 507.3,271.4 507.3,270.7 508.5,270.7 508.5,272.2 509.4,272.2 509.4,274.6 510.4,274.6 510.4,276.9 511.6,276.9 511.6,274.5 512.9,274.5 512.9,273.0 514.1,273.0 514.1,271.3 515.3,271.3 515.3,269.9 516.6,269.9 516.6,269.1 517.8,269.1 517.8,269.4 518.7,269.4 518.7,272.7 519.6,272.7 519.6,274.1 520.5,274.1 520.5,274.6 521.5,274.6 521.5,275.9 522.4,275.9 522.4,262.0 523.3,262.0 523.3,261.9 524.3,261.9 524.3,259.4 525.2,259.4 525.2,259.3 526.1,259.3 526.1,256.5 527.0,256.5 527.0,253.7 528.0,253.7 528.0,267.6 528.9,267.6 528.9,262.9 529.8,262.9 529.8,259.5 530.7,259.5 530.7,255.6 531.9,255.6 531.9,254.6 533.2,254.6 533.2,255.3 534.4,255.3 534.4,254.6 535.6,254.6 535.6,253.0 536.9,253.0 536.9,253.3 538.1,253.3 538.1,251.9 539.0,251.9 539.0,255.1 540.0,255.1 540.0,258.3 541.0,258.3 541.0,259.9 541.9,259.9 541.9,263.0 542.8,263.0 542.8,253.7 543.7,253.7 543.7,251.2 544.7,251.2 544.7,249.4 545.6,249.4 545.6,247.2 546.5,247.2 546.5,246.6 547.4,246.6 547.4,244.4 548.3,244.4 548.3,248.7 549.3,248.7 549.3,253.7 550.2,253.7 550.2,264.8 551.1,264.8 551.1,263.3 552.1,263.3 552.1,263.9 553.0,263.9 553.0,262.0 553.9,262.0 553.9,261.9 554.8,261.9 554.8,260.7 555.7,260.7 555.7,259.3 556.9,259.3 556.9,257.6 558.2,257.6 558.2,256.2 559.4,256.2 559.4,255.6 560.3,255.6 560.3,255.7 561.3,255.7 561.3,255.9 562.2,255.9 562.2,257.4 563.2,257.4 563.2,258.3 564.1,258.3 564.1,261.1 565.0,261.1 565.0,265.7 565.9,265.7 565.9,253.7 567.1,253.7 567.1,252.8 568.4,252.8 568.4,251.6 569.6,251.6 569.6,250.9 570.5,250.9 570.5,248.3 571.5,248.3 571.5,245.4 572.4,245.4 572.4,241.9 573.3,241.9 573.3,238.9 574.2,238.9 574.2,240.2 575.2,240.2 575.2,243.5 576.4,243.5 576.4,242.9 577.7,242.9 577.7,241.9 578.9,241.9 578.9,240.7 579.8,240.7 579.8,249.1 580.7,249.1 580.7,249.5 581.7,249.5 581.7,249.8 582.6,249.8 582.6,250.0 583.5,250.0 583.5,242.6 584.5,242.6 584.5,240.7 585.4,240.7 585.4,238.0 586.3,238.0 586.3,236.5 587.2,236.5 587.2,233.8 588.1,233.8 588.1,230.6 589.0,230.6 589.0,231.9 590.0,231.9 590.0,232.2 590.9,232.2 590.9,233.3 591.8,233.3 591.8,232.0 592.8,232.0 592.8,231.5 593.7,231.5 593.7,231.6 594.7,231.6 594.7,233.0 595.6,233.0 595.6,232.4 596.5,232.4 596.5,228.5 597.4,228.5 597.4,225.0 598.6,225.0 598.6,224.1 599.9,224.1 599.9,223.6 601.1,223.6 601.1,223.1 602.0,223.1 602.0,222.4 603.0,222.4 603.0,224.1 603.9,224.1 603.9,223.1 604.8,223.1 604.8,224.0 605.7,224.0 605.7,226.9 606.7,226.9 606.7,239.8 607.6,239.8 607.6,240.5 608.5,240.5 608.5,240.7 609.4,240.7 609.4,232.4 610.3,232.4 610.3,231.7 611.3,231.7 611.3,228.8 612.2,228.8 612.2,227.8 613.3,227.8 613.3,227.3 614.4,227.3 614.4,226.1 615.6,226.1 615.6,225.1 616.7,225.1 616.7,224.2 617.8,224.2 617.8,224.1 619.0,224.1 619.0,222.7 620.3,222.7 620.3,223.5 621.5,223.5 621.5,222.2 622.4,222.2 622.4,220.9 623.3,220.9 623.3,218.5 624.2,218.5 624.2,218.4 625.2,218.4 625.2,215.7 626.1,215.7 626.1,215.7 627.2,215.7 627.2,216.3 628.4,216.3 628.4,215.8 629.6,215.8 629.6,216.7 630.7,216.7 630.7,216.7 631.9,216.7 631.9,216.8 633.0,216.8 633.0,216.3 634.2,216.3 634.2,217.6 635.4,217.6 635.4,216.7 636.3,216.7 636.3,213.4 637.2,213.4 637.2,212.0 638.1,212.0 638.1,211.3 639.1,211.3 639.1,210.2 640.0,210.2 640.0,208.3 640.9,208.3 640.9,208.7 641.9,208.7 641.9,209.2 642.8,209.2 642.8,209.3 643.7,209.3 643.7,209.1 644.7,209.1 644.7,206.4 645.6,206.4 645.6,205.8 646.4,205.8 646.4,204.0 647.2,204.0 647.2,201.7 648.3,201.7 648.3,203.3 649.4,203.3 649.4,203.9 650.5,203.9 650.5,198.7 651.7,198.7 651.7,193.9 652.8,193.9 652.8,193.8 653.9,193.8 653.9,192.8 655.0,192.8 655.0,193.7 656.1,193.7 656.1,195.1 657.2,195.1 657.2,196.1 658.3,196.1 658.3,196.7 659.5,196.7 659.5,197.2 660.6,197.2 660.6,197.2 661.7,197.2 661.7,196.1 662.8,196.1 662.8,196.0 663.9,196.0 663.9,195.0 665.0,195.0 665.0,195.1 666.1,195.1 666.1,194.4 667.2,194.4 667.2,195.0 668.3,195.0 668.3,194.9 669.5,194.9 669.5,193.8 670.6,193.8 670.6,193.9 671.7,193.9 671.7,191.9 672.8,191.9 672.8,188.3 673.9,188.3 673.9,185.5 675.0,185.5 675.0,182.8 676.1,182.8 676.1,182.5 677.2,182.5 677.2,181.4 678.3,181.4 678.3,180.6 679.5,180.6 679.5,181.1 680.6,181.1 680.6,181.7 681.7,181.7 681.7,177.2 682.8,177.2 682.8,173.9 683.9,173.9 683.9,174.8 685.0,174.8 685.0,177.2 686.1,177.2 686.1,180.3 687.2,180.3 687.2,181.7 688.3,181.7 688.3,177.9 689.4,177.9 689.4,173.9 690.5,173.9 690.5,174.2 691.6,174.2 691.6,174.5 692.8,174.5 692.8,175.4 693.9,175.4 693.9,175.0 695.0,175.0 695.0,173.9 696.1,173.9 696.1,173.2 697.2,173.2 697.2,174.0 698.3,174.0 698.3,172.8 699.4,172.8 699.4,173.5 700.6,173.5 700.6,174.5 701.7,174.5 701.7,175.0 702.8,175.0 702.8,174.6 703.9,174.6 703.9,173.6 705.0,173.6 705.0,171.7 706.1,171.7 706.1,172.4 707.2,172.4 707.2,170.8 708.3,170.8 708.3,171.5 709.4,171.5 709.4,171.7 710.5,171.7 710.5,172.1 711.6,172.1 711.6,171.8 712.8,171.8 712.8,170.1 713.9,170.1 713.9,170.6 715.0,170.6 715.0,170.5 716.1,170.5 716.1,171.7 717.2,171.7 717.2,168.4 718.3,168.4 718.3,166.1 719.4,166.1 719.4,163.5 720.6,163.5 720.6,162.1 721.7,162.1 721.7,160.6 722.8,160.6 722.8,162.9 723.9,162.9 723.9,163.9 725.0,163.9 725.0,163.2 726.1,163.2 726.1,162.3 727.2,162.3 727.2,161.7 728.3,161.7 728.3,160.1 729.5,160.1 729.5,160.0 730.6,160.0 730.6,159.4 731.7,159.4 731.7,159.8 732.8,159.8 732.8,158.7 733.9,158.7 733.9,157.6 735.0,157.6 735.0,157.2 736.1,157.2 736.1,159.4 737.2,159.4 737.2,161.7 738.3,161.7 738.3,163.4 739.4,163.4 739.4,163.9 740.5,163.9 740.5,162.6 741.7,162.6 741.7,159.5 742.8,159.5 742.8,158.3 743.9,158.3 743.9,158.7 745.0,158.7 745.0,158.0 746.1,158.0 746.1,158.3 747.2,158.3 747.2,156.1 748.3,156.1 748.3,153.9 749.5,153.9 749.5,150.6 750.6,150.6 750.6,148.3 751.7,148.3 751.7,147.3 752.8,147.3 752.8,146.5 753.9,146.5 753.9,146.1 755.0,146.1 755.0,144.2 756.1,144.2 756.1,142.8 757.2,142.8 757.2,139.0 758.3,139.0 758.3,137.2 759.4,137.2 759.4,135.9 760.6,135.9 760.6,135.9 761.7,135.9 761.7,135.0 762.8,135.0 762.8,134.5 763.9,134.5 763.9,135.1 765.0,135.1 765.0,136.1 766.1,136.1 766.1,134.3 767.2,134.3 767.2,131.7 768.3,131.7 768.3,130.4 769.5,130.4 769.5,129.6 770.6,129.6 770.6,128.6 771.7,128.6 771.7,128.3 772.8,128.3 772.8,130.1 773.9,130.1 773.9,130.6 775.0,130.6 775.0,128.3 776.1,128.3 776.1,127.9 777.2,127.9 777.2,126.1 778.3,126.1 778.3,126.5 779.5,126.5 779.5,124.8 780.6,124.8 780.6,125.0 781.7,125.0 781.7,123.7 782.8,123.7 782.8,123.4 783.9,123.4 783.9,121.7 785.0,121.7 785.0,119.7 786.1,119.7 786.1,117.2 787.2,117.2 787.2,116.5 788.3,116.5 788.3,115.4 789.5,115.4 789.5,115.8 790.6,115.8 790.6,115.2 791.7,115.2 791.7,115.0 792.8,115.0 792.8,112.1 793.9,112.1 793.9,108.3 795.0,108.3 795.0,107.5 796.1,107.5 796.1,107.4 797.2,107.4 797.2,107.2 798.1,107.2 798.1,106.5 799.1,106.5 799.1,105.9 800.0,105.9 800.0,104.3 801.0,104.3 801.0,102.6 801.9,102.6 801.9,101.5 802.8,101.5 802.8,101.7 803.7,101.7 803.7,102.4 804.7,102.4 804.7,106.7 805.6,106.7 805.6,110.7 806.5,110.7 806.5,110.6 807.4,110.6 807.4,108.9 808.3,108.9 808.3,107.3 809.3,107.3 809.3,107.0 810.2,107.0 810.2,108.4 811.1,108.4 811.1,108.0 812.0,108.0 812.0,106.6 813.0,106.6 813.0,104.0 813.9,104.0 813.9,102.4 814.8,102.4 814.8,100.3 815.8,100.3 815.8,97.1 816.7,97.1 816.7,95.0 817.6,95.0 817.6,95.1 818.5,95.1 818.5,96.9 819.5,96.9 819.5,98.8 820.4,98.8 820.4,99.6 821.3,99.6 821.3,101.2 822.2,101.2 822.2,103.3 823.2,103.3 823.2,106.6 824.1,106.6 824.1,109.8 825.0,109.8 825.0,109.3 825.9,109.3 825.9,108.9 826.8,108.9 826.8,108.8 827.8,108.8 827.8,107.5 828.7,107.5 828.7,106.1 829.7,106.1 829.7,104.7 830.6,104.7 830.6,105.2 831.5,105.2 831.5,103.5 832.4,103.5 832.4,101.5 833.3,101.5 833.3,101.4 834.3,101.4 834.3,101.4 835.2,101.4 835.2,101.5 836.1,101.5 836.1,102.6 837.0,102.6 837.0,102.4 838.0,102.4 838.0,99.9 838.9,99.9 838.9,97.8 839.8,97.8 839.8,98.7 840.8,98.7 840.8,100.4 841.7,100.4 841.7,100.6 842.6,100.6 842.6,101.4 843.5,101.4 843.5,102.4 844.5,102.4 844.5,99.6 845.4,99.6 845.4,96.9 846.3,96.9 846.3,97.8 847.2,97.8 847.2,99.3 848.1,99.3 848.1,99.6 849.4,99.6 849.4,99.9 850.6,99.9 850.6,100.1 851.9,100.1 851.9,99.6 852.8,99.6 852.8,98.2 853.7,98.2 853.7,96.2 854.6,96.2 854.6,95.9 855.5,95.9 855.5,95.7 856.5,95.7 856.5,94.8 857.4,94.8 857.4,94.1 858.3,94.1 858.3,93.7 859.3,93.7 859.3,92.2 860.2,92.2 860.2,95.5 861.1,95.5 861.1,97.8 862.0,97.8 862.0,96.4 863.0,96.4 863.0,96.0 863.9,96.0 863.9,95.9 865.1,95.9 865.1,94.1 866.4,94.1 866.4,94.7 867.6,94.7 867.6,93.1 868.5,93.1 868.5,92.6 869.5,92.6 869.5,92.9 870.4,92.9 870.4,94.1 871.3,94.1 871.3,95.1 872.2,95.1 872.2,95.0 873.1,95.0 873.1,88.5 874.0,88.5 874.0,87.4 875.0,87.4 875.0,85.1 875.9,85.1 875.9,84.8 876.8,84.8 876.8,83.3 877.8,83.3 877.8,81.6 878.7,81.6 878.7,79.3 879.7,79.3 879.7,76.9 880.6,76.9 880.6,74.6 881.5,74.6 881.5,70.0 882.4,70.0 882.4,65.4 883.3,65.4 883.3,62.6 884.2,62.6 884.2,61.1 885.2,61.1 885.2,58.9 886.1,58.9 886.1,59.0 887.1,59.0 887.1,59.7 888.0,59.7 888.0,59.8 888.9,59.8 888.9,59.9 889.8,59.9 889.8,58.0 890.7,58.0 890.7,53.3 891.6,53.3 891.6,53.6 892.6,53.6 892.6,53.4 893.5,53.4 893.5,52.4 894.4,52.4 894.4,49.9 895.4,49.9 895.4,48.4 896.3,48.4 896.3,46.9 897.2,46.9 897.2,46.3 898.2,46.3 898.2,44.6 899.1,44.6 899.1,45.0 900.0,45.0 900.0,46.6 901.0,46.6 901.0,45.8 901.9,45.8 901.9,46.9 903.1,46.9 903.1,47.0 904.4,47.0 904.4,47.7 905.6,47.7 905.6,48.7 906.8,48.7 906.8,47.3 908.1,47.3 908.1,47.6 909.3,47.6 909.3,45.9 910.5,45.9 910.5,46.9 911.8,46.9 911.8,47.8 913.0,47.8 913.0,48.7 914.2,48.7 914.2,47.9 915.5,47.9 915.5,46.6 916.7,46.6 916.7,46.9 917.6,46.9 917.6,44.0 918.5,44.0 918.5,42.6 919.4,42.6 919.4,39.4 920.3,39.4 920.3,39.7 921.3,39.7 921.3,39.5 922.2,39.5 922.2,38.5 923.4,38.5 923.4,38.0 924.7,38.0 924.7,37.9 925.9,37.9 925.9,38.5 926.8,38.5 926.8,38.2 927.8,38.2 927.8,39.8 928.7,39.8 928.7,40.4 929.7,40.4 929.7,42.0 930.6,42.0 930.6,44.1 931.5,44.1 931.5,45.0 932.4,45.0 932.4,45.9 933.3,45.9 933.3,46.9 934.2,46.9 934.2,45.2 935.2,45.2 935.2,42.9 936.1,42.9 936.1,41.3 937.0,41.3 937.0,40.7 938.0,40.7 938.0,38.2 938.9,38.2 938.9,37.6 939.8,37.6 939.8,37.5 940.8,37.5 940.8,35.8 941.7,35.8 941.7,34.8 942.6,34.8 942.6,30.7 943.5,30.7 943.5,28.3 944.4,28.3 944.4,28.6 945.4,28.6 945.4,29.6 946.3,29.6 946.3,30.2 947.2,30.2 947.2,31.9 948.1,31.9 948.1,33.9 949.0,33.9 949.0,32.2 950.0,32.2 950.0,30.2 950.8,30.2 950.8,32.5 951.5,32.5 951.5,35.5 952.4,35.5 952.4,36.9 953.4,36.9 953.4,33.5 954.2,33.5 954.2,32.0" fill="none" stroke="#7e7e7e" stroke-width="1.1" stroke-linejoin="round"/>
<rect x="36.1" y="4.6" width="918.5" height="518.3" fill="none" stroke="#d2d2d2" stroke-width="1.8"/><line x1="959.4" y1="0" x2="959.4" y2="540" stroke="#dcdcdc" stroke-width="1.2"/><g stroke="#c4c4c4" stroke-width="1"><line x1="33.5" y1="505.5" x2="36.1" y2="505.5"/><line x1="33.5" y1="483.0" x2="36.1" y2="483.0"/><line x1="33.5" y1="460.5" x2="36.1" y2="460.5"/><line x1="33.5" y1="438.0" x2="36.1" y2="438.0"/><line x1="33.5" y1="415.5" x2="36.1" y2="415.5"/><line x1="33.5" y1="392.5" x2="36.1" y2="392.5"/><line x1="33.5" y1="370.0" x2="36.1" y2="370.0"/><line x1="33.5" y1="347.5" x2="36.1" y2="347.5"/><line x1="33.5" y1="325.0" x2="36.1" y2="325.0"/><line x1="33.5" y1="302.5" x2="36.1" y2="302.5"/><line x1="33.5" y1="280.0" x2="36.1" y2="280.0"/><line x1="33.5" y1="257.5" x2="36.1" y2="257.5"/><line x1="33.5" y1="235.0" x2="36.1" y2="235.0"/><line x1="33.5" y1="212.5" x2="36.1" y2="212.5"/><line x1="33.5" y1="190.0" x2="36.1" y2="190.0"/><line x1="33.5" y1="167.5" x2="36.1" y2="167.5"/><line x1="33.5" y1="145.0" x2="36.1" y2="145.0"/><line x1="33.5" y1="122.5" x2="36.1" y2="122.5"/><line x1="33.5" y1="100.0" x2="36.1" y2="100.0"/><line x1="33.5" y1="77.5" x2="36.1" y2="77.5"/><line x1="33.5" y1="55.0" x2="36.1" y2="55.0"/><line x1="33.5" y1="32.5" x2="36.1" y2="32.5"/><line x1="33.5" y1="10.0" x2="36.1" y2="10.0"/><line x1="70.5" y1="522.9" x2="70.5" y2="525.5"/><line x1="106.5" y1="522.9" x2="106.5" y2="525.5"/><line x1="142.5" y1="522.9" x2="142.5" y2="525.5"/><line x1="178.5" y1="522.9" x2="178.5" y2="525.5"/><line x1="214.0" y1="522.9" x2="214.0" y2="525.5"/><line x1="250.5" y1="522.9" x2="250.5" y2="525.5"/><line x1="286.0" y1="522.9" x2="286.0" y2="525.5"/><line x1="322.0" y1="522.9" x2="322.0" y2="525.5"/><line x1="358.0" y1="522.9" x2="358.0" y2="525.5"/><line x1="394.0" y1="522.9" x2="394.0" y2="525.5"/><line x1="430.0" y1="522.9" x2="430.0" y2="525.5"/><line x1="466.0" y1="522.9" x2="466.0" y2="525.5"/><line x1="501.5" y1="522.9" x2="501.5" y2="525.5"/><line x1="538.0" y1="522.9" x2="538.0" y2="525.5"/><line x1="573.5" y1="522.9" x2="573.5" y2="525.5"/><line x1="609.5" y1="522.9" x2="609.5" y2="525.5"/><line x1="645.5" y1="522.9" x2="645.5" y2="525.5"/><line x1="681.5" y1="522.9" x2="681.5" y2="525.5"/><line x1="717.5" y1="522.9" x2="717.5" y2="525.5"/><line x1="753.5" y1="522.9" x2="753.5" y2="525.5"/><line x1="789.0" y1="522.9" x2="789.0" y2="525.5"/><line x1="825.5" y1="522.9" x2="825.5" y2="525.5"/><line x1="861.0" y1="522.9" x2="861.0" y2="525.5"/><line x1="897.0" y1="522.9" x2="897.0" y2="525.5"/><line x1="933.0" y1="522.9" x2="933.0" y2="525.5"/></g><g font-family="Liberation Sans, Arial, sans-serif" font-size="9" fill="#262626" stroke="#262626" stroke-width="0.2"><text transform="translate(32,509.0) scale(0.69,1)" text-anchor="end">-500</text><text transform="translate(32,486.4) scale(0.69,1)" text-anchor="end">0</text><text transform="translate(32,463.8) scale(0.69,1)" text-anchor="end">500</text><text transform="translate(32,441.3) scale(0.69,1)" text-anchor="end">1,000</text><text transform="translate(32,418.7) scale(0.69,1)" text-anchor="end">1,500</text><text transform="translate(32,396.1) scale(0.69,1)" text-anchor="end">2,000</text><text transform="translate(32,373.5) scale(0.69,1)" text-anchor="end">2,500</text><text transform="translate(32,351.0) scale(0.69,1)" text-anchor="end">3,000</text><text transform="translate(32,328.4) scale(0.69,1)" text-anchor="end">3,500</text><text transform="translate(32,305.8) scale(0.69,1)" text-anchor="end">4,000</text><text transform="translate(32,283.2) scale(0.69,1)" text-anchor="end">4,500</text><text transform="translate(32,260.7) scale(0.69,1)" text-anchor="end">5,000</text><text transform="translate(32,238.1) scale(0.69,1)" text-anchor="end">5,500</text><text transform="translate(32,215.5) scale(0.69,1)" text-anchor="end">6,000</text><text transform="translate(32,192.9) scale(0.69,1)" text-anchor="end">6,500</text><text transform="translate(32,170.4) scale(0.69,1)" text-anchor="end">7,000</text><text transform="translate(32,147.8) scale(0.69,1)" text-anchor="end">7,500</text><text transform="translate(32,125.2) scale(0.69,1)" text-anchor="end">8,000</text><text transform="translate(32,102.6) scale(0.69,1)" text-anchor="end">8,500</text><text transform="translate(32,80.1) scale(0.69,1)" text-anchor="end">9,000</text><text transform="translate(32,57.5) scale(0.69,1)" text-anchor="end">9,500</text><text transform="translate(32,34.9) scale(0.69,1)" text-anchor="end">10,000</text><text transform="translate(32,12.3) scale(0.69,1)" text-anchor="end">10,500</text><text transform="translate(70.5,535.2) scale(0.69,1)" text-anchor="middle">Jul-2012</text><text transform="translate(106.7,535.2) scale(0.69,1)" text-anchor="middle">Jan-2013</text><text transform="translate(142.3,535.2) scale(0.69,1)" text-anchor="middle">Jul-2013</text><text transform="translate(178.5,535.2) scale(0.69,1)" text-anchor="middle">Jan-2014</text><text transform="translate(214.1,535.2) scale(0.69,1)" text-anchor="middle">Jul-2014</text><text transform="translate(250.3,535.2) scale(0.69,1)" text-anchor="middle">Jan-2015</text><text transform="translate(286.0,535.2) scale(0.69,1)" text-anchor="middle">Jul-2015</text><text transform="translate(322.2,535.2) scale(0.69,1)" text-anchor="middle">Jan-2016</text><text transform="translate(358.0,535.2) scale(0.69,1)" text-anchor="middle">Jul-2016</text><text transform="translate(394.2,535.2) scale(0.69,1)" text-anchor="middle">Jan-2017</text><text transform="translate(429.8,535.2) scale(0.69,1)" text-anchor="middle">Jul-2017</text><text transform="translate(466.0,535.2) scale(0.69,1)" text-anchor="middle">Jan-2018</text><text transform="translate(501.6,535.2) scale(0.69,1)" text-anchor="middle">Jul-2018</text><text transform="translate(537.9,535.2) scale(0.69,1)" text-anchor="middle">Jan-2019</text><text transform="translate(573.5,535.2) scale(0.69,1)" text-anchor="middle">Jul-2019</text><text transform="translate(609.7,535.2) scale(0.69,1)" text-anchor="middle">Jan-2020</text><text transform="translate(645.5,535.2) scale(0.69,1)" text-anchor="middle">Jul-2020</text><text transform="translate(681.7,535.2) scale(0.69,1)" text-anchor="middle">Jan-2021</text><text transform="translate(717.3,535.2) scale(0.69,1)" text-anchor="middle">Jul-2021</text><text transform="translate(753.6,535.2) scale(0.69,1)" text-anchor="middle">Jan-2022</text><text transform="translate(789.2,535.2) scale(0.69,1)" text-anchor="middle">Jul-2022</text><text transform="translate(825.4,535.2) scale(0.69,1)" text-anchor="middle">Jan-2023</text><text transform="translate(861.0,535.2) scale(0.69,1)" text-anchor="middle">Jul-2023</text><text transform="translate(897.2,535.2) scale(0.69,1)" text-anchor="middle">Jan-2024</text><text transform="translate(933.0,535.2) scale(0.69,1)" text-anchor="middle">Jul-2024</text></g><text transform="translate(8.4,263) scale(0.69,1) rotate(-90)" text-anchor="middle" font-family="Liberation Sans, Arial, sans-serif" font-size="10" fill="#262626" stroke="#262626" stroke-width="0.15" textLength="40" lengthAdjust="spacingAndGlyphs">Equity ($)</text><rect x="46.6" y="76.2" width="253" height="1.2" fill="#e6e8e4"/><rect x="45.9" y="25.9" width="252.7" height="49.2" fill="#fff" stroke="#c43636" stroke-width="1.5"/><line x1="45.2" y1="75.1" x2="299.3" y2="75.1" stroke="#cc2a35" stroke-width="1.9"/><g font-family="Liberation Sans, Arial, sans-serif" font-size="15.4" fill="#d81d27"><text x="50.85" y="46.8" textLength="27.65" lengthAdjust="spacingAndGlyphs">GOLD</text><text x="81.30" y="46.8" textLength="38.85" lengthAdjust="spacingAndGlyphs">REAPER</text><text x="122.00" y="46.8" textLength="61.80" lengthAdjust="spacingAndGlyphs">STRATEGIES</text><text x="50.85" y="64.0" textLength="30.55" lengthAdjust="spacingAndGlyphs">BUILD</text><text x="83.80" y="64.0" textLength="28.40" lengthAdjust="spacingAndGlyphs">WITH</text><text x="114.10" y="64.0" textLength="21.00" lengthAdjust="spacingAndGlyphs">THE</text><text x="137.00" y="64.0" textLength="50.60" lengthAdjust="spacingAndGlyphs">ULTIMATE</text><text x="190.35" y="64.0" textLength="53.05" lengthAdjust="spacingAndGlyphs">BREAKOUT</text><text x="245.00" y="64.0" textLength="42.80" lengthAdjust="spacingAndGlyphs">SYSTEM!</text></g>
</svg></body></html>
